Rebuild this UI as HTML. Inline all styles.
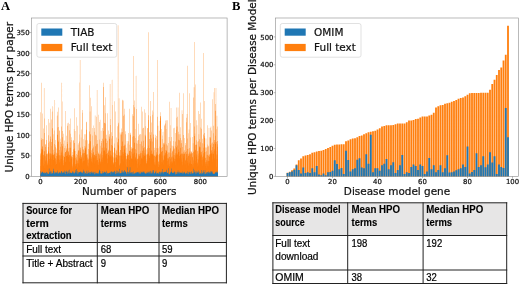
<!DOCTYPE html>
<html lang="en"><head><meta charset="utf-8"><title>Figure</title>
<style>html,body{margin:0;padding:0;background:#fff;}svg{display:block;}</style>
</head><body>
<svg width="520" height="284" viewBox="0 0 520 284">
<rect width="520" height="284" fill="#fff"/>
<path d="M40.360 176.40V112.37h0.280V176.40zM40.560 176.40V155.41h0.280V176.40zM40.760 176.40V159.38h0.280V176.40zM40.960 176.40V148.64h0.280V176.40zM41.160 176.40V82.69h0.280V176.40zM41.359 176.40V138.03h0.280V176.40zM41.559 176.40V139.88h0.280V176.40zM41.759 176.40V152.61h0.280V176.40zM41.959 176.40V138.93h0.280V176.40zM42.159 176.40V146.66h0.280V176.40zM42.359 176.40V113.46h0.280V176.40zM42.559 176.40V146.15h0.280V176.40zM42.759 176.40V149.38h0.280V176.40zM42.959 176.40V165.88h0.280V176.40zM43.158 176.40V128.51h0.280V176.40zM43.358 176.40V154.76h0.280V176.40zM43.558 176.40V167.46h0.280V176.40zM43.758 176.40V139.30h0.280V176.40zM43.958 176.40V88.04h0.280V176.40zM44.158 176.40V118.48h0.280V176.40zM44.358 176.40V133.11h0.280V176.40zM44.558 176.40V151.42h0.280V176.40zM44.757 176.40V167.88h0.280V176.40zM44.957 176.40V168.54h0.280V176.40zM45.157 176.40V144.18h0.280V176.40zM45.357 176.40V156.18h0.280V176.40zM45.557 176.40V147.03h0.280V176.40zM45.757 176.40V144.48h0.280V176.40zM45.957 176.40V165.75h0.280V176.40zM46.157 176.40V139.95h0.280V176.40zM46.356 176.40V150.14h0.280V176.40zM46.556 176.40V125.16h0.280V176.40zM46.756 176.40V154.11h0.280V176.40zM46.956 176.40V169.23h0.280V176.40zM47.156 176.40V154.31h0.280V176.40zM47.356 176.40V160.51h0.280V176.40zM47.556 176.40V153.16h0.280V176.40zM47.756 176.40V163.47h0.280V176.40zM47.956 176.40V146.92h0.280V176.40zM48.155 176.40V119.09h0.280V176.40zM48.355 176.40V143.08h0.280V176.40zM48.555 176.40V135.33h0.280V176.40zM48.755 176.40V151.61h0.280V176.40zM48.955 176.40V168.37h0.280V176.40zM49.155 176.40V141.56h0.280V176.40zM49.355 176.40V160.87h0.280V176.40zM49.555 176.40V153.15h0.280V176.40zM49.754 176.40V122.65h0.280V176.40zM49.954 176.40V139.04h0.280V176.40zM50.154 176.40V136.52h0.280V176.40zM50.354 176.40V158.03h0.280V176.40zM50.554 176.40V108.79h0.280V176.40zM50.754 176.40V153.74h0.280V176.40zM50.954 176.40V155.49h0.280V176.40zM51.154 176.40V142.00h0.280V176.40zM51.353 176.40V165.82h0.280V176.40zM51.553 176.40V119.39h0.280V176.40zM51.753 176.40V146.11h0.280V176.40zM51.953 176.40V111.61h0.280V176.40zM52.153 176.40V155.31h0.280V176.40zM52.353 176.40V128.37h0.280V176.40zM52.553 176.40V138.71h0.280V176.40zM52.753 176.40V106.24h0.280V176.40zM52.953 176.40V154.93h0.280V176.40zM53.152 176.40V154.40h0.280V176.40zM53.352 176.40V160.02h0.280V176.40zM53.552 176.40V149.85h0.280V176.40zM53.752 176.40V134.37h0.280V176.40zM53.952 176.40V130.43h0.280V176.40zM54.152 176.40V143.93h0.280V176.40zM54.352 176.40V157.34h0.280V176.40zM54.552 176.40V154.02h0.280V176.40zM54.751 176.40V100.03h0.280V176.40zM54.951 176.40V145.22h0.280V176.40zM55.151 176.40V147.25h0.280V176.40zM55.351 176.40V164.91h0.280V176.40zM55.551 176.40V158.48h0.280V176.40zM55.751 176.40V140.05h0.280V176.40zM55.951 176.40V164.07h0.280V176.40zM56.151 176.40V156.05h0.280V176.40zM56.350 176.40V152.78h0.280V176.40zM56.550 176.40V159.77h0.280V176.40zM56.750 176.40V148.44h0.280V176.40zM56.950 176.40V115.43h0.280V176.40zM57.150 176.40V127.54h0.280V176.40zM57.350 176.40V111.70h0.280V176.40zM57.550 176.40V166.73h0.280V176.40zM57.750 176.40V134.84h0.280V176.40zM57.950 176.40V160.94h0.280V176.40zM58.149 176.40V141.63h0.280V176.40zM58.349 176.40V107.56h0.280V176.40zM58.549 176.40V140.42h0.280V176.40zM58.749 176.40V127.07h0.280V176.40zM58.949 176.40V162.41h0.280V176.40zM59.149 176.40V159.65h0.280V176.40zM59.349 176.40V150.09h0.280V176.40zM59.549 176.40V130.65h0.280V176.40zM59.748 176.40V130.50h0.280V176.40zM59.948 176.40V138.81h0.280V176.40zM60.148 176.40V155.58h0.280V176.40zM60.348 176.40V142.11h0.280V176.40zM60.548 176.40V146.78h0.280V176.40zM60.748 176.40V168.89h0.280V176.40zM60.948 176.40V152.56h0.280V176.40zM61.148 176.40V126.47h0.280V176.40zM61.347 176.40V144.11h0.280V176.40zM61.547 176.40V158.92h0.280V176.40zM61.747 176.40V82.69h0.280V176.40zM61.947 176.40V101.47h0.280V176.40zM62.147 176.40V169.26h0.280V176.40zM62.347 176.40V137.32h0.280V176.40zM62.547 176.40V130.99h0.280V176.40zM62.747 176.40V146.28h0.280V176.40zM62.947 176.40V165.81h0.280V176.40zM63.146 176.40V164.97h0.280V176.40zM63.346 176.40V143.64h0.280V176.40zM63.546 176.40V133.75h0.280V176.40zM63.746 176.40V163.06h0.280V176.40zM63.946 176.40V153.39h0.280V176.40zM64.146 176.40V140.44h0.280V176.40zM64.346 176.40V156.79h0.280V176.40zM64.546 176.40V157.03h0.280V176.40zM64.745 176.40V148.05h0.280V176.40zM64.945 176.40V145.75h0.280V176.40zM65.145 176.40V110.98h0.280V176.40zM65.345 176.40V152.00h0.280V176.40zM65.545 176.40V152.12h0.280V176.40zM65.745 176.40V162.10h0.280V176.40zM65.945 176.40V148.31h0.280V176.40zM66.145 176.40V149.45h0.280V176.40zM66.344 176.40V135.67h0.280V176.40zM66.544 176.40V150.63h0.280V176.40zM66.744 176.40V156.11h0.280V176.40zM66.944 176.40V141.91h0.280V176.40zM67.144 176.40V125.68h0.280V176.40zM67.344 176.40V156.19h0.280V176.40zM67.544 176.40V143.92h0.280V176.40zM67.744 176.40V123.18h0.280V176.40zM67.944 176.40V148.36h0.280V176.40zM68.143 176.40V122.86h0.280V176.40zM68.343 176.40V156.98h0.280V176.40zM68.543 176.40V151.23h0.280V176.40zM68.743 176.40V152.15h0.280V176.40zM68.943 176.40V147.70h0.280V176.40zM69.143 176.40V130.17h0.280V176.40zM69.343 176.40V155.44h0.280V176.40zM69.543 176.40V161.64h0.280V176.40zM69.742 176.40V123.93h0.280V176.40zM69.942 176.40V133.68h0.280V176.40zM70.142 176.40V168.28h0.280V176.40zM70.342 176.40V142.26h0.280V176.40zM70.542 176.40V118.52h0.280V176.40zM70.742 176.40V147.67h0.280V176.40zM70.942 176.40V155.90h0.280V176.40zM71.142 176.40V137.27h0.280V176.40zM71.341 176.40V139.99h0.280V176.40zM71.541 176.40V158.63h0.280V176.40zM71.741 176.40V156.73h0.280V176.40zM71.941 176.40V154.88h0.280V176.40zM72.141 176.40V156.98h0.280V176.40zM72.341 176.40V170.53h0.280V176.40zM72.541 176.40V168.31h0.280V176.40zM72.741 176.40V152.05h0.280V176.40zM72.941 176.40V140.51h0.280V176.40zM73.140 176.40V162.71h0.280V176.40zM73.340 176.40V140.13h0.280V176.40zM73.540 176.40V149.15h0.280V176.40zM73.740 176.40V154.81h0.280V176.40zM73.940 176.40V129.04h0.280V176.40zM74.140 176.40V108.20h0.280V176.40zM74.340 176.40V148.54h0.280V176.40zM74.540 176.40V143.12h0.280V176.40zM74.739 176.40V151.33h0.280V176.40zM74.939 176.40V131.12h0.280V176.40zM75.139 176.40V150.95h0.280V176.40zM75.339 176.40V164.13h0.280V176.40zM75.539 176.40V166.27h0.280V176.40zM75.739 176.40V157.79h0.280V176.40zM75.939 176.40V163.63h0.280V176.40zM76.139 176.40V160.23h0.280V176.40zM76.338 176.40V157.31h0.280V176.40zM76.538 176.40V159.07h0.280V176.40zM76.738 176.40V117.37h0.280V176.40zM76.938 176.40V160.71h0.280V176.40zM77.138 176.40V163.27h0.280V176.40zM77.338 176.40V167.39h0.280V176.40zM77.538 176.40V125.69h0.280V176.40zM77.738 176.40V152.59h0.280V176.40zM77.938 176.40V144.84h0.280V176.40zM78.137 176.40V143.24h0.280V176.40zM78.337 176.40V165.79h0.280V176.40zM78.537 176.40V150.21h0.280V176.40zM78.737 176.40V150.76h0.280V176.40zM78.937 176.40V165.58h0.280V176.40zM79.137 176.40V157.70h0.280V176.40zM79.337 176.40V141.46h0.280V176.40zM79.537 176.40V134.56h0.280V176.40zM79.736 176.40V82.40h0.280V176.40zM79.936 176.40V60.09h0.280V176.40zM80.136 176.40V149.97h0.280V176.40zM80.336 176.40V147.51h0.280V176.40zM80.536 176.40V151.72h0.280V176.40zM80.736 176.40V159.34h0.280V176.40zM80.936 176.40V137.52h0.280V176.40zM81.136 176.40V129.51h0.280V176.40zM81.335 176.40V157.80h0.280V176.40zM81.535 176.40V159.35h0.280V176.40zM81.735 176.40V156.67h0.280V176.40zM81.935 176.40V171.03h0.280V176.40zM82.135 176.40V146.69h0.280V176.40zM82.335 176.40V109.89h0.280V176.40zM82.535 176.40V112.69h0.280V176.40zM82.735 176.40V163.57h0.280V176.40zM82.935 176.40V148.94h0.280V176.40zM83.134 176.40V139.22h0.280V176.40zM83.334 176.40V153.28h0.280V176.40zM83.534 176.40V161.13h0.280V176.40zM83.734 176.40V149.76h0.280V176.40zM83.934 176.40V151.35h0.280V176.40zM84.134 176.40V146.07h0.280V176.40zM84.334 176.40V134.23h0.280V176.40zM84.534 176.40V160.46h0.280V176.40zM84.733 176.40V152.97h0.280V176.40zM84.933 176.40V148.06h0.280V176.40zM85.133 176.40V140.17h0.280V176.40zM85.333 176.40V149.61h0.280V176.40zM85.533 176.40V134.24h0.280V176.40zM85.733 176.40V146.41h0.280V176.40zM85.933 176.40V167.21h0.280V176.40zM86.133 176.40V121.65h0.280V176.40zM86.332 176.40V158.39h0.280V176.40zM86.532 176.40V129.78h0.280V176.40zM86.732 176.40V122.27h0.280V176.40zM86.932 176.40V159.85h0.280V176.40zM87.132 176.40V166.53h0.280V176.40zM87.332 176.40V154.14h0.280V176.40zM87.532 176.40V157.30h0.280V176.40zM87.732 176.40V140.20h0.280V176.40zM87.932 176.40V173.11h0.280V176.40zM88.131 176.40V143.74h0.280V176.40zM88.331 176.40V158.77h0.280V176.40zM88.531 176.40V166.03h0.280V176.40zM88.731 176.40V148.88h0.280V176.40zM88.931 176.40V158.55h0.280V176.40zM89.131 176.40V131.57h0.280V176.40zM89.331 176.40V140.36h0.280V176.40zM89.531 176.40V85.23h0.280V176.40zM89.730 176.40V143.40h0.280V176.40zM89.930 176.40V111.42h0.280V176.40zM90.130 176.40V97.79h0.280V176.40zM90.330 176.40V159.85h0.280V176.40zM90.530 176.40V134.29h0.280V176.40zM90.730 176.40V141.14h0.280V176.40zM90.930 176.40V157.14h0.280V176.40zM91.130 176.40V161.56h0.280V176.40zM91.329 176.40V150.35h0.280V176.40zM91.529 176.40V158.63h0.280V176.40zM91.729 176.40V106.34h0.280V176.40zM91.929 176.40V173.11h0.280V176.40zM92.129 176.40V148.60h0.280V176.40zM92.329 176.40V153.78h0.280V176.40zM92.529 176.40V135.53h0.280V176.40zM92.729 176.40V127.91h0.280V176.40zM92.929 176.40V147.13h0.280V176.40zM93.128 176.40V152.30h0.280V176.40zM93.328 176.40V157.40h0.280V176.40zM93.528 176.40V145.54h0.280V176.40zM93.728 176.40V125.42h0.280V176.40zM93.928 176.40V163.46h0.280V176.40zM94.128 176.40V128.00h0.280V176.40zM94.328 176.40V131.75h0.280V176.40zM94.528 176.40V154.95h0.280V176.40zM94.727 176.40V157.66h0.280V176.40zM94.927 176.40V115.60h0.280V176.40zM95.127 176.40V146.15h0.280V176.40zM95.327 176.40V157.31h0.280V176.40zM95.527 176.40V134.71h0.280V176.40zM95.727 176.40V165.69h0.280V176.40zM95.927 176.40V135.56h0.280V176.40zM96.127 176.40V164.46h0.280V176.40zM96.326 176.40V144.23h0.280V176.40zM96.526 176.40V116.85h0.280V176.40zM96.726 176.40V169.03h0.280V176.40zM96.926 176.40V90.09h0.280V176.40zM97.126 176.40V140.01h0.280V176.40zM97.326 176.40V164.57h0.280V176.40zM97.526 176.40V143.70h0.280V176.40zM97.726 176.40V160.36h0.280V176.40zM97.926 176.40V168.38h0.280V176.40zM98.125 176.40V114.85h0.280V176.40zM98.325 176.40V152.44h0.280V176.40zM98.525 176.40V162.37h0.280V176.40zM98.725 176.40V153.66h0.280V176.40zM98.925 176.40V158.90h0.280V176.40zM99.125 176.40V159.31h0.280V176.40zM99.325 176.40V121.98h0.280V176.40zM99.525 176.40V155.70h0.280V176.40zM99.724 176.40V139.41h0.280V176.40zM99.924 176.40V119.77h0.280V176.40zM100.124 176.40V145.80h0.280V176.40zM100.324 176.40V163.51h0.280V176.40zM100.524 176.40V161.95h0.280V176.40zM100.724 176.40V153.46h0.280V176.40zM100.924 176.40V130.84h0.280V176.40zM101.124 176.40V168.98h0.280V176.40zM101.323 176.40V142.97h0.280V176.40zM101.523 176.40V141.02h0.280V176.40zM101.723 176.40V151.44h0.280V176.40zM101.923 176.40V147.64h0.280V176.40zM102.123 176.40V159.86h0.280V176.40zM102.323 176.40V138.65h0.280V176.40zM102.523 176.40V169.45h0.280V176.40zM102.723 176.40V128.04h0.280V176.40zM102.923 176.40V157.94h0.280V176.40zM103.122 176.40V86.89h0.280V176.40zM103.322 176.40V140.45h0.280V176.40zM103.522 176.40V131.11h0.280V176.40zM103.722 176.40V82.69h0.280V176.40zM103.922 176.40V147.40h0.280V176.40zM104.122 176.40V122.66h0.280V176.40zM104.322 176.40V105.27h0.280V176.40zM104.522 176.40V123.07h0.280V176.40zM104.721 176.40V150.51h0.280V176.40zM104.921 176.40V155.84h0.280V176.40zM105.121 176.40V123.44h0.280V176.40zM105.321 176.40V97.36h0.280V176.40zM105.521 176.40V113.37h0.280V176.40zM105.721 176.40V138.40h0.280V176.40zM105.921 176.40V154.14h0.280V176.40zM106.121 176.40V134.72h0.280V176.40zM106.320 176.40V138.70h0.280V176.40zM106.520 176.40V142.97h0.280V176.40zM106.720 176.40V148.30h0.280V176.40zM106.920 176.40V163.09h0.280V176.40zM107.120 176.40V140.67h0.280V176.40zM107.320 176.40V163.44h0.280V176.40zM107.520 176.40V152.95h0.280V176.40zM107.720 176.40V113.25h0.280V176.40zM107.920 176.40V152.09h0.280V176.40zM108.119 176.40V130.54h0.280V176.40zM108.319 176.40V155.33h0.280V176.40zM108.519 176.40V150.69h0.280V176.40zM108.719 176.40V149.83h0.280V176.40zM108.919 176.40V135.48h0.280V176.40zM109.119 176.40V133.91h0.280V176.40zM109.319 176.40V165.33h0.280V176.40zM109.519 176.40V138.85h0.280V176.40zM109.718 176.40V136.63h0.280V176.40zM109.918 176.40V83.93h0.280V176.40zM110.118 176.40V119.07h0.280V176.40zM110.318 176.40V125.06h0.280V176.40zM110.518 176.40V150.87h0.280V176.40zM110.718 176.40V156.75h0.280V176.40zM110.918 176.40V165.39h0.280V176.40zM111.118 176.40V144.98h0.280V176.40zM111.317 176.40V132.18h0.280V176.40zM111.517 176.40V155.41h0.280V176.40zM111.717 176.40V138.58h0.280V176.40zM111.917 176.40V79.82h0.280V176.40zM112.117 176.40V104.94h0.280V176.40zM112.317 176.40V156.96h0.280V176.40zM112.517 176.40V145.68h0.280V176.40zM112.717 176.40V135.91h0.280V176.40zM112.917 176.40V157.21h0.280V176.40zM113.116 176.40V163.03h0.280V176.40zM113.316 176.40V162.23h0.280V176.40zM113.516 176.40V152.62h0.280V176.40zM113.716 176.40V164.42h0.280V176.40zM113.916 176.40V158.26h0.280V176.40zM114.116 176.40V101.24h0.280V176.40zM114.316 176.40V143.45h0.280V176.40zM114.516 176.40V147.50h0.280V176.40zM114.715 176.40V147.89h0.280V176.40zM114.915 176.40V162.02h0.280V176.40zM115.115 176.40V111.61h0.280V176.40zM115.315 176.40V161.92h0.280V176.40zM115.515 176.40V157.58h0.280V176.40zM115.715 176.40V173.11h0.280V176.40zM115.915 176.40V149.44h0.280V176.40zM116.115 176.40V137.47h0.280V176.40zM116.314 176.40V157.66h0.280V176.40zM116.514 176.40V155.11h0.280V176.40zM116.714 176.40V150.42h0.280V176.40zM116.914 176.40V160.90h0.280V176.40zM117.114 176.40V142.28h0.280V176.40zM117.314 176.40V155.82h0.280V176.40zM117.514 176.40V126.33h0.280V176.40zM117.714 176.40V167.80h0.280V176.40zM117.914 176.40V25.15h0.280V176.40zM118.113 176.40V138.86h0.280V176.40zM118.313 176.40V145.58h0.280V176.40zM118.513 176.40V122.73h0.280V176.40zM118.713 176.40V124.41h0.280V176.40zM118.913 176.40V98.35h0.280V176.40zM119.113 176.40V155.52h0.280V176.40zM119.313 176.40V164.81h0.280V176.40zM119.513 176.40V168.93h0.280V176.40zM119.712 176.40V155.80h0.280V176.40zM119.912 176.40V132.40h0.280V176.40zM120.112 176.40V164.06h0.280V176.40zM120.312 176.40V150.05h0.280V176.40zM120.512 176.40V164.03h0.280V176.40zM120.712 176.40V134.54h0.280V176.40zM120.912 176.40V158.89h0.280V176.40zM121.112 176.40V128.49h0.280V176.40zM121.311 176.40V132.55h0.280V176.40zM121.511 176.40V134.42h0.280V176.40zM121.711 176.40V146.24h0.280V176.40zM121.911 176.40V131.89h0.280V176.40zM122.111 176.40V160.35h0.280V176.40zM122.311 176.40V141.44h0.280V176.40zM122.511 176.40V100.45h0.280V176.40zM122.711 176.40V99.63h0.280V176.40zM122.911 176.40V146.06h0.280V176.40zM123.110 176.40V161.72h0.280V176.40zM123.310 176.40V100.38h0.280V176.40zM123.510 176.40V155.99h0.280V176.40zM123.710 176.40V115.70h0.280V176.40zM123.910 176.40V144.24h0.280V176.40zM124.110 176.40V108.72h0.280V176.40zM124.310 176.40V114.60h0.280V176.40zM124.510 176.40V149.49h0.280V176.40zM124.709 176.40V145.54h0.280V176.40zM124.909 176.40V152.76h0.280V176.40zM125.109 176.40V166.09h0.280V176.40zM125.309 176.40V134.36h0.280V176.40zM125.509 176.40V144.84h0.280V176.40zM125.709 176.40V131.27h0.280V176.40zM125.909 176.40V147.82h0.280V176.40zM126.109 176.40V160.07h0.280V176.40zM126.308 176.40V158.65h0.280V176.40zM126.508 176.40V166.78h0.280V176.40zM126.708 176.40V156.11h0.280V176.40zM126.908 176.40V140.93h0.280V176.40zM127.108 176.40V143.55h0.280V176.40zM127.308 176.40V154.59h0.280V176.40zM127.508 176.40V153.57h0.280V176.40zM127.708 176.40V155.95h0.280V176.40zM127.908 176.40V154.68h0.280V176.40zM128.107 176.40V133.03h0.280V176.40zM128.307 176.40V166.39h0.280V176.40zM128.507 176.40V141.15h0.280V176.40zM128.707 176.40V154.99h0.280V176.40zM128.907 176.40V159.89h0.280V176.40zM129.107 176.40V150.65h0.280V176.40zM129.307 176.40V150.90h0.280V176.40zM129.507 176.40V144.80h0.280V176.40zM129.706 176.40V108.77h0.280V176.40zM129.906 176.40V133.69h0.280V176.40zM130.106 176.40V150.69h0.280V176.40zM130.306 176.40V134.92h0.280V176.40zM130.506 176.40V170.60h0.280V176.40zM130.706 176.40V132.78h0.280V176.40zM130.906 176.40V148.68h0.280V176.40zM131.106 176.40V158.69h0.280V176.40zM131.305 176.40V146.95h0.280V176.40zM131.505 176.40V158.16h0.280V176.40zM131.705 176.40V151.87h0.280V176.40zM131.905 176.40V148.14h0.280V176.40zM132.105 176.40V114.34h0.280V176.40zM132.305 176.40V136.83h0.280V176.40zM132.505 176.40V158.96h0.280V176.40zM132.705 176.40V148.56h0.280V176.40zM132.905 176.40V116.07h0.280V176.40zM133.104 176.40V136.04h0.280V176.40zM133.304 176.40V104.96h0.280V176.40zM133.504 176.40V55.98h0.280V176.40zM133.704 176.40V155.76h0.280V176.40zM133.904 176.40V169.35h0.280V176.40zM134.104 176.40V142.82h0.280V176.40zM134.304 176.40V100.56h0.280V176.40zM134.504 176.40V136.37h0.280V176.40zM134.703 176.40V107.26h0.280V176.40zM134.903 176.40V129.11h0.280V176.40zM135.103 176.40V137.90h0.280V176.40zM135.303 176.40V148.97h0.280V176.40zM135.503 176.40V157.62h0.280V176.40zM135.703 176.40V158.64h0.280V176.40zM135.903 176.40V75.71h0.280V176.40zM136.103 176.40V160.92h0.280V176.40zM136.302 176.40V153.46h0.280V176.40zM136.502 176.40V143.23h0.280V176.40zM136.702 176.40V108.90h0.280V176.40zM136.902 176.40V140.87h0.280V176.40zM137.102 176.40V143.73h0.280V176.40zM137.302 176.40V163.83h0.280V176.40zM137.502 176.40V158.88h0.280V176.40zM137.702 176.40V168.11h0.280V176.40zM137.902 176.40V140.07h0.280V176.40zM138.101 176.40V159.07h0.280V176.40zM138.301 176.40V136.22h0.280V176.40zM138.501 176.40V123.67h0.280V176.40zM138.701 176.40V162.16h0.280V176.40zM138.901 176.40V154.10h0.280V176.40zM139.101 176.40V156.42h0.280V176.40zM139.301 176.40V134.34h0.280V176.40zM139.501 176.40V134.95h0.280V176.40zM139.700 176.40V166.21h0.280V176.40zM139.900 176.40V143.95h0.280V176.40zM140.100 176.40V151.25h0.280V176.40zM140.300 176.40V133.92h0.280V176.40zM140.500 176.40V163.98h0.280V176.40zM140.700 176.40V153.37h0.280V176.40zM140.900 176.40V134.61h0.280V176.40zM141.100 176.40V106.87h0.280V176.40zM141.299 176.40V158.71h0.280V176.40zM141.499 176.40V157.77h0.280V176.40zM141.699 176.40V141.45h0.280V176.40zM141.899 176.40V145.67h0.280V176.40zM142.099 176.40V150.71h0.280V176.40zM142.299 176.40V158.84h0.280V176.40zM142.499 176.40V111.42h0.280V176.40zM142.699 176.40V128.56h0.280V176.40zM142.899 176.40V156.96h0.280V176.40zM143.098 176.40V148.14h0.280V176.40zM143.298 176.40V128.10h0.280V176.40zM143.498 176.40V127.63h0.280V176.40zM143.698 176.40V140.83h0.280V176.40zM143.898 176.40V150.51h0.280V176.40zM144.098 176.40V109.23h0.280V176.40zM144.298 176.40V156.37h0.280V176.40zM144.498 176.40V147.37h0.280V176.40zM144.697 176.40V155.60h0.280V176.40zM144.897 176.40V134.86h0.280V176.40zM145.097 176.40V156.68h0.280V176.40zM145.297 176.40V112.72h0.280V176.40zM145.497 176.40V126.20h0.280V176.40zM145.697 176.40V136.26h0.280V176.40zM145.897 176.40V163.14h0.280V176.40zM146.097 176.40V154.38h0.280V176.40zM146.296 176.40V159.21h0.280V176.40zM146.496 176.40V149.59h0.280V176.40zM146.696 176.40V163.79h0.280V176.40zM146.896 176.40V161.14h0.280V176.40zM147.096 176.40V147.91h0.280V176.40zM147.296 176.40V128.10h0.280V176.40zM147.496 176.40V128.21h0.280V176.40zM147.696 176.40V153.69h0.280V176.40zM147.896 176.40V154.41h0.280V176.40zM148.095 176.40V119.94h0.280V176.40zM148.295 176.40V115.22h0.280V176.40zM148.495 176.40V151.73h0.280V176.40zM148.695 176.40V32.14h0.280V176.40zM148.895 176.40V157.91h0.280V176.40zM149.095 176.40V148.05h0.280V176.40zM149.295 176.40V138.88h0.280V176.40zM149.495 176.40V155.71h0.280V176.40zM149.694 176.40V132.17h0.280V176.40zM149.894 176.40V160.72h0.280V176.40zM150.094 176.40V134.98h0.280V176.40zM150.294 176.40V116.31h0.280V176.40zM150.494 176.40V141.35h0.280V176.40zM150.694 176.40V101.01h0.280V176.40zM150.894 176.40V150.43h0.280V176.40zM151.094 176.40V154.29h0.280V176.40zM151.293 176.40V138.39h0.280V176.40zM151.493 176.40V122.48h0.280V176.40zM151.693 176.40V132.27h0.280V176.40zM151.893 176.40V141.54h0.280V176.40zM152.093 176.40V154.78h0.280V176.40zM152.293 176.40V154.14h0.280V176.40zM152.493 176.40V114.83h0.280V176.40zM152.693 176.40V110.56h0.280V176.40zM152.893 176.40V112.26h0.280V176.40zM153.092 176.40V91.89h0.280V176.40zM153.292 176.40V137.30h0.280V176.40zM153.492 176.40V134.50h0.280V176.40zM153.692 176.40V159.20h0.280V176.40zM153.892 176.40V155.28h0.280V176.40zM154.092 176.40V164.84h0.280V176.40zM154.292 176.40V156.06h0.280V176.40zM154.492 176.40V147.67h0.280V176.40zM154.691 176.40V149.88h0.280V176.40zM154.891 176.40V164.19h0.280V176.40zM155.091 176.40V165.46h0.280V176.40zM155.291 176.40V137.82h0.280V176.40zM155.491 176.40V161.56h0.280V176.40zM155.691 176.40V134.69h0.280V176.40zM155.891 176.40V148.02h0.280V176.40zM156.091 176.40V155.55h0.280V176.40zM156.290 176.40V152.30h0.280V176.40zM156.490 176.40V135.88h0.280V176.40zM156.690 176.40V154.59h0.280V176.40zM156.890 176.40V139.43h0.280V176.40zM157.090 176.40V60.09h0.280V176.40zM157.290 176.40V172.11h0.280V176.40zM157.490 176.40V116.75h0.280V176.40zM157.690 176.40V154.84h0.280V176.40zM157.890 176.40V125.79h0.280V176.40zM158.089 176.40V148.18h0.280V176.40zM158.289 176.40V167.12h0.280V176.40zM158.489 176.40V161.44h0.280V176.40zM158.689 176.40V164.13h0.280V176.40zM158.889 176.40V161.54h0.280V176.40zM159.089 176.40V153.63h0.280V176.40zM159.289 176.40V166.13h0.280V176.40zM159.489 176.40V130.78h0.280V176.40zM159.688 176.40V146.48h0.280V176.40zM159.888 176.40V121.04h0.280V176.40zM160.088 176.40V112.20h0.280V176.40zM160.288 176.40V118.20h0.280V176.40zM160.488 176.40V115.88h0.280V176.40zM160.688 176.40V116.42h0.280V176.40zM160.888 176.40V171.69h0.280V176.40zM161.088 176.40V152.01h0.280V176.40zM161.287 176.40V147.84h0.280V176.40zM161.487 176.40V150.79h0.280V176.40zM161.687 176.40V128.88h0.280V176.40zM161.887 176.40V138.95h0.280V176.40zM162.087 176.40V146.88h0.280V176.40zM162.287 176.40V162.63h0.280V176.40zM162.487 176.40V150.89h0.280V176.40zM162.687 176.40V135.42h0.280V176.40zM162.887 176.40V131.86h0.280V176.40zM163.086 176.40V164.42h0.280V176.40zM163.286 176.40V160.68h0.280V176.40zM163.486 176.40V143.25h0.280V176.40zM163.686 176.40V144.60h0.280V176.40zM163.886 176.40V142.75h0.280V176.40zM164.086 176.40V155.91h0.280V176.40zM164.286 176.40V144.52h0.280V176.40zM164.486 176.40V126.10h0.280V176.40zM164.685 176.40V124.67h0.280V176.40zM164.885 176.40V157.57h0.280V176.40zM165.085 176.40V152.87h0.280V176.40zM165.285 176.40V123.49h0.280V176.40zM165.485 176.40V150.12h0.280V176.40zM165.685 176.40V120.49h0.280V176.40zM165.885 176.40V129.02h0.280V176.40zM166.085 176.40V151.12h0.280V176.40zM166.284 176.40V120.35h0.280V176.40zM166.484 176.40V144.29h0.280V176.40zM166.684 176.40V150.30h0.280V176.40zM166.884 176.40V151.99h0.280V176.40zM167.084 176.40V145.51h0.280V176.40zM167.284 176.40V165.22h0.280V176.40zM167.484 176.40V120.27h0.280V176.40zM167.684 176.40V158.19h0.280V176.40zM167.884 176.40V168.11h0.280V176.40zM168.083 176.40V152.50h0.280V176.40zM168.283 176.40V158.12h0.280V176.40zM168.483 176.40V143.11h0.280V176.40zM168.683 176.40V158.69h0.280V176.40zM168.883 176.40V137.07h0.280V176.40zM169.083 176.40V166.03h0.280V176.40zM169.283 176.40V157.05h0.280V176.40zM169.483 176.40V163.68h0.280V176.40zM169.682 176.40V101.78h0.280V176.40zM169.882 176.40V166.64h0.280V176.40zM170.082 176.40V148.18h0.280V176.40zM170.282 176.40V141.18h0.280V176.40zM170.482 176.40V171.13h0.280V176.40zM170.682 176.40V125.14h0.280V176.40zM170.882 176.40V108.12h0.280V176.40zM171.082 176.40V163.77h0.280V176.40zM171.281 176.40V157.72h0.280V176.40zM171.481 176.40V137.10h0.280V176.40zM171.681 176.40V161.91h0.280V176.40zM171.881 176.40V145.53h0.280V176.40zM172.081 176.40V156.47h0.280V176.40zM172.281 176.40V151.46h0.280V176.40zM172.481 176.40V162.57h0.280V176.40zM172.681 176.40V150.49h0.280V176.40zM172.881 176.40V146.03h0.280V176.40zM173.080 176.40V147.30h0.280V176.40zM173.280 176.40V140.93h0.280V176.40zM173.480 176.40V128.33h0.280V176.40zM173.680 176.40V157.38h0.280V176.40zM173.880 176.40V149.59h0.280V176.40zM174.080 176.40V127.83h0.280V176.40zM174.280 176.40V158.70h0.280V176.40zM174.480 176.40V161.32h0.280V176.40zM174.679 176.40V148.43h0.280V176.40zM174.879 176.40V153.31h0.280V176.40zM175.079 176.40V165.05h0.280V176.40zM175.279 176.40V141.40h0.280V176.40zM175.479 176.40V146.06h0.280V176.40zM175.679 176.40V133.05h0.280V176.40zM175.879 176.40V155.32h0.280V176.40zM176.079 176.40V147.30h0.280V176.40zM176.278 176.40V107.54h0.280V176.40zM176.478 176.40V117.74h0.280V176.40zM176.678 176.40V129.63h0.280V176.40zM176.878 176.40V126.41h0.280V176.40zM177.078 176.40V145.43h0.280V176.40zM177.278 176.40V158.34h0.280V176.40zM177.478 176.40V116.70h0.280V176.40zM177.678 176.40V155.12h0.280V176.40zM177.878 176.40V107.49h0.280V176.40zM178.077 176.40V149.39h0.280V176.40zM178.277 176.40V139.78h0.280V176.40zM178.477 176.40V131.76h0.280V176.40zM178.677 176.40V151.98h0.280V176.40zM178.877 176.40V134.15h0.280V176.40zM179.077 176.40V92.64h0.280V176.40zM179.277 176.40V159.67h0.280V176.40zM179.477 176.40V140.14h0.280V176.40zM179.676 176.40V156.03h0.280V176.40zM179.876 176.40V134.17h0.280V176.40zM180.076 176.40V138.03h0.280V176.40zM180.276 176.40V154.49h0.280V176.40zM180.476 176.40V147.79h0.280V176.40zM180.676 176.40V127.13h0.280V176.40zM180.876 176.40V143.54h0.280V176.40zM181.076 176.40V142.92h0.280V176.40zM181.275 176.40V140.25h0.280V176.40zM181.475 176.40V161.74h0.280V176.40zM181.675 176.40V153.82h0.280V176.40zM181.875 176.40V110.31h0.280V176.40zM182.075 176.40V164.77h0.280V176.40zM182.275 176.40V147.08h0.280V176.40zM182.475 176.40V113.89h0.280V176.40zM182.675 176.40V168.89h0.280V176.40zM182.875 176.40V154.60h0.280V176.40zM183.074 176.40V93.18h0.280V176.40zM183.274 176.40V158.00h0.280V176.40zM183.474 176.40V153.80h0.280V176.40zM183.674 176.40V134.91h0.280V176.40zM183.874 176.40V153.90h0.280V176.40zM184.074 176.40V153.76h0.280V176.40zM184.274 176.40V138.03h0.280V176.40zM184.474 176.40V152.44h0.280V176.40zM184.673 176.40V150.20h0.280V176.40zM184.873 176.40V165.40h0.280V176.40zM185.073 176.40V145.35h0.280V176.40zM185.273 176.40V160.53h0.280V176.40zM185.473 176.40V142.98h0.280V176.40zM185.673 176.40V151.88h0.280V176.40zM185.873 176.40V168.22h0.280V176.40zM186.073 176.40V158.37h0.280V176.40zM186.272 176.40V122.29h0.280V176.40zM186.472 176.40V117.82h0.280V176.40zM186.672 176.40V151.01h0.280V176.40zM186.872 176.40V113.90h0.280V176.40zM187.072 176.40V161.20h0.280V176.40zM187.272 176.40V163.32h0.280V176.40zM187.472 176.40V65.84h0.280V176.40zM187.672 176.40V138.44h0.280V176.40zM187.872 176.40V148.79h0.280V176.40zM188.071 176.40V153.73h0.280V176.40zM188.271 176.40V156.05h0.280V176.40zM188.471 176.40V166.24h0.280V176.40zM188.671 176.40V133.29h0.280V176.40zM188.871 176.40V129.55h0.280V176.40zM189.071 176.40V153.55h0.280V176.40zM189.271 176.40V163.77h0.280V176.40zM189.471 176.40V147.99h0.280V176.40zM189.670 176.40V93.18h0.280V176.40zM189.870 176.40V163.59h0.280V176.40zM190.070 176.40V122.92h0.280V176.40zM190.270 176.40V137.41h0.280V176.40zM190.470 176.40V153.46h0.280V176.40zM190.670 176.40V160.47h0.280V176.40zM190.870 176.40V151.36h0.280V176.40zM191.070 176.40V152.11h0.280V176.40zM191.269 176.40V153.27h0.280V176.40zM191.469 176.40V163.99h0.280V176.40zM191.669 176.40V151.58h0.280V176.40zM191.869 176.40V153.68h0.280V176.40zM192.069 176.40V152.91h0.280V176.40zM192.269 176.40V157.19h0.280V176.40zM192.469 176.40V170.18h0.280V176.40zM192.669 176.40V137.04h0.280V176.40zM192.869 176.40V143.20h0.280V176.40zM193.068 176.40V160.92h0.280V176.40zM193.268 176.40V97.61h0.280V176.40zM193.468 176.40V166.70h0.280V176.40zM193.668 176.40V163.47h0.280V176.40zM193.868 176.40V87.19h0.280V176.40zM194.068 176.40V135.99h0.280V176.40zM194.268 176.40V168.89h0.280V176.40zM194.468 176.40V126.62h0.280V176.40zM194.667 176.40V42.00h0.280V176.40zM194.867 176.40V133.42h0.280V176.40zM195.067 176.40V84.44h0.280V176.40zM195.267 176.40V145.08h0.280V176.40zM195.467 176.40V149.69h0.280V176.40zM195.667 176.40V163.54h0.280V176.40zM195.867 176.40V144.42h0.280V176.40zM196.067 176.40V120.18h0.280V176.40zM196.266 176.40V140.34h0.280V176.40zM196.466 176.40V144.63h0.280V176.40zM196.666 176.40V156.87h0.280V176.40zM196.866 176.40V125.28h0.280V176.40zM197.066 176.40V141.65h0.280V176.40zM197.266 176.40V151.14h0.280V176.40zM197.466 176.40V166.44h0.280V176.40zM197.666 176.40V162.41h0.280V176.40zM197.866 176.40V150.86h0.280V176.40zM198.065 176.40V110.98h0.280V176.40zM198.265 176.40V165.58h0.280V176.40zM198.465 176.40V160.01h0.280V176.40zM198.665 176.40V141.31h0.280V176.40zM198.865 176.40V134.14h0.280V176.40zM199.065 176.40V114.02h0.280V176.40zM199.265 176.40V145.93h0.280V176.40zM199.465 176.40V139.36h0.280V176.40zM199.664 176.40V147.29h0.280V176.40zM199.864 176.40V147.13h0.280V176.40zM200.064 176.40V156.43h0.280V176.40zM200.264 176.40V127.52h0.280V176.40zM200.464 176.40V102.42h0.280V176.40zM200.664 176.40V142.28h0.280V176.40zM200.864 176.40V151.54h0.280V176.40zM201.064 176.40V118.71h0.280V176.40zM201.263 176.40V160.24h0.280V176.40zM201.463 176.40V128.86h0.280V176.40zM201.663 176.40V152.02h0.280V176.40zM201.863 176.40V168.03h0.280V176.40zM202.063 176.40V143.24h0.280V176.40zM202.263 176.40V150.67h0.280V176.40zM202.463 176.40V138.70h0.280V176.40zM202.663 176.40V165.59h0.280V176.40zM202.863 176.40V156.63h0.280V176.40zM203.062 176.40V134.54h0.280V176.40zM203.262 176.40V159.10h0.280V176.40zM203.462 176.40V153.27h0.280V176.40zM203.662 176.40V53.10h0.280V176.40zM203.862 176.40V143.74h0.280V176.40zM204.062 176.40V133.11h0.280V176.40zM204.262 176.40V136.19h0.280V176.40zM204.462 176.40V137.94h0.280V176.40zM204.661 176.40V101.10h0.280V176.40zM204.861 176.40V152.00h0.280V176.40zM205.061 176.40V166.18h0.280V176.40zM205.261 176.40V147.45h0.280V176.40zM205.461 176.40V158.04h0.280V176.40zM205.661 176.40V163.42h0.280V176.40zM205.861 176.40V138.43h0.280V176.40zM206.061 176.40V160.23h0.280V176.40zM206.260 176.40V171.71h0.280V176.40zM206.460 176.40V147.42h0.280V176.40zM206.660 176.40V151.34h0.280V176.40zM206.860 176.40V154.97h0.280V176.40zM207.060 176.40V169.44h0.280V176.40zM207.260 176.40V144.51h0.280V176.40zM207.460 176.40V125.33h0.280V176.40zM207.660 176.40V164.24h0.280V176.40zM207.860 176.40V146.69h0.280V176.40zM208.059 176.40V156.10h0.280V176.40zM208.259 176.40V160.73h0.280V176.40zM208.459 176.40V145.76h0.280V176.40zM208.659 176.40V166.45h0.280V176.40zM208.859 176.40V127.88h0.280V176.40zM209.059 176.40V154.58h0.280V176.40zM209.259 176.40V137.20h0.280V176.40zM209.459 176.40V156.72h0.280V176.40zM209.658 176.40V161.20h0.280V176.40zM209.858 176.40V154.19h0.280V176.40zM210.058 176.40V137.10h0.280V176.40zM210.258 176.40V127.84h0.280V176.40zM210.458 176.40V145.32h0.280V176.40zM210.658 176.40V138.20h0.280V176.40zM210.858 176.40V126.51h0.280V176.40zM211.058 176.40V153.48h0.280V176.40zM211.257 176.40V150.61h0.280V176.40zM211.457 176.40V130.59h0.280V176.40zM211.657 176.40V143.40h0.280V176.40zM211.857 176.40V150.06h0.280V176.40zM212.057 176.40V142.40h0.280V176.40zM212.257 176.40V165.16h0.280V176.40zM212.457 176.40V99.20h0.280V176.40zM212.657 176.40V146.88h0.280V176.40zM212.857 176.40V153.76h0.280V176.40zM213.056 176.40V133.28h0.280V176.40zM213.256 176.40V125.87h0.280V176.40zM213.456 176.40V153.82h0.280V176.40zM213.656 176.40V143.90h0.280V176.40zM213.856 176.40V92.15h0.280V176.40zM214.056 176.40V88.04h0.280V176.40zM214.256 176.40V149.33h0.280V176.40zM214.456 176.40V140.08h0.280V176.40zM214.655 176.40V163.19h0.280V176.40zM214.855 176.40V142.37h0.280V176.40zM215.055 176.40V110.82h0.280V176.40zM215.255 176.40V144.30h0.280V176.40zM215.455 176.40V104.11h0.280V176.40zM215.655 176.40V135.76h0.280V176.40zM215.855 176.40V88.04h0.280V176.40zM216.055 176.40V129.25h0.280V176.40zM216.254 176.40V169.81h0.280V176.40zM216.454 176.40V166.72h0.280V176.40zM216.654 176.40V142.03h0.280V176.40zM216.854 176.40V115.66h0.280V176.40zM217.054 176.40V144.25h0.280V176.40zM217.254 176.40V140.97h0.280V176.40zM217.454 176.40V146.72h0.280V176.40zM217.654 176.40V126.49h0.280V176.40z" fill="#ff7f0e"/>
<path d="M40.310 176.40V153.56h0.380V176.40zM40.510 176.40V165.91h0.380V176.40zM40.710 176.40V167.89h0.380V176.40zM40.910 176.40V162.52h0.380V176.40zM41.110 176.40V150.59h0.380V176.40zM41.310 176.40V157.22h0.380V176.40zM41.509 176.40V158.14h0.380V176.40zM41.709 176.40V164.50h0.380V176.40zM41.909 176.40V157.67h0.380V176.40zM42.109 176.40V161.53h0.380V176.40zM42.309 176.40V153.67h0.380V176.40zM42.509 176.40V161.28h0.380V176.40zM42.709 176.40V162.89h0.380V176.40zM42.909 176.40V171.14h0.380V176.40zM43.108 176.40V155.17h0.380V176.40zM43.308 176.40V165.58h0.380V176.40zM43.508 176.40V171.93h0.380V176.40zM43.708 176.40V157.85h0.380V176.40zM43.908 176.40V151.12h0.380V176.40zM44.108 176.40V154.17h0.380V176.40zM44.308 176.40V155.63h0.380V176.40zM44.508 176.40V163.91h0.380V176.40zM44.707 176.40V172.14h0.380V176.40zM44.907 176.40V172.47h0.380V176.40zM45.107 176.40V160.29h0.380V176.40zM45.307 176.40V166.29h0.380V176.40zM45.507 176.40V161.72h0.380V176.40zM45.707 176.40V160.44h0.380V176.40zM45.907 176.40V171.08h0.380V176.40zM46.107 176.40V158.17h0.380V176.40zM46.307 176.40V163.27h0.380V176.40zM46.506 176.40V154.84h0.380V176.40zM46.706 176.40V165.26h0.380V176.40zM46.906 176.40V172.81h0.380V176.40zM47.106 176.40V165.36h0.380V176.40zM47.306 176.40V168.45h0.380V176.40zM47.506 176.40V164.78h0.380V176.40zM47.706 176.40V169.94h0.380V176.40zM47.906 176.40V161.66h0.380V176.40zM48.105 176.40V154.23h0.380V176.40zM48.305 176.40V159.74h0.380V176.40zM48.505 176.40V155.86h0.380V176.40zM48.705 176.40V164.01h0.380V176.40zM48.905 176.40V172.39h0.380V176.40zM49.105 176.40V158.98h0.380V176.40zM49.305 176.40V168.64h0.380V176.40zM49.505 176.40V164.78h0.380V176.40zM49.704 176.40V154.58h0.380V176.40zM49.904 176.40V157.72h0.380V176.40zM50.104 176.40V156.46h0.380V176.40zM50.304 176.40V167.21h0.380V176.40zM50.504 176.40V153.20h0.380V176.40zM50.704 176.40V165.07h0.380V176.40zM50.904 176.40V165.95h0.380V176.40zM51.104 176.40V159.20h0.380V176.40zM51.304 176.40V171.11h0.380V176.40zM51.503 176.40V154.26h0.380V176.40zM51.703 176.40V161.26h0.380V176.40zM51.903 176.40V153.48h0.380V176.40zM52.103 176.40V165.86h0.380V176.40zM52.303 176.40V155.16h0.380V176.40zM52.503 176.40V157.56h0.380V176.40zM52.703 176.40V152.94h0.380V176.40zM52.903 176.40V165.66h0.380V176.40zM53.102 176.40V165.40h0.380V176.40zM53.302 176.40V168.21h0.380V176.40zM53.502 176.40V163.13h0.380V176.40zM53.702 176.40V155.76h0.380V176.40zM53.902 176.40V155.36h0.380V176.40zM54.102 176.40V160.17h0.380V176.40zM54.302 176.40V166.87h0.380V176.40zM54.502 176.40V165.21h0.380V176.40zM54.701 176.40V152.32h0.380V176.40zM54.901 176.40V160.81h0.380V176.40zM55.101 176.40V161.83h0.380V176.40zM55.301 176.40V170.65h0.380V176.40zM55.501 176.40V167.44h0.380V176.40zM55.701 176.40V158.23h0.380V176.40zM55.901 176.40V170.23h0.380V176.40zM56.101 176.40V166.23h0.380V176.40zM56.301 176.40V164.59h0.380V176.40zM56.500 176.40V168.09h0.380V176.40zM56.700 176.40V162.42h0.380V176.40zM56.900 176.40V153.86h0.380V176.40zM57.100 176.40V155.07h0.380V176.40zM57.300 176.40V153.49h0.380V176.40zM57.500 176.40V171.57h0.380V176.40zM57.700 176.40V155.80h0.380V176.40zM57.900 176.40V168.67h0.380V176.40zM58.099 176.40V159.01h0.380V176.40zM58.299 176.40V153.08h0.380V176.40zM58.499 176.40V158.41h0.380V176.40zM58.699 176.40V155.03h0.380V176.40zM58.899 176.40V169.40h0.380V176.40zM59.099 176.40V168.02h0.380V176.40zM59.299 176.40V163.24h0.380V176.40zM59.499 176.40V155.39h0.380V176.40zM59.698 176.40V155.37h0.380V176.40zM59.898 176.40V157.61h0.380V176.40zM60.098 176.40V165.99h0.380V176.40zM60.298 176.40V159.26h0.380V176.40zM60.498 176.40V161.59h0.380V176.40zM60.698 176.40V172.64h0.380V176.40zM60.898 176.40V164.48h0.380V176.40zM61.098 176.40V154.97h0.380V176.40zM61.298 176.40V160.26h0.380V176.40zM61.497 176.40V167.66h0.380V176.40zM61.697 176.40V150.59h0.380V176.40zM61.897 176.40V152.47h0.380V176.40zM62.097 176.40V172.83h0.380V176.40zM62.297 176.40V156.86h0.380V176.40zM62.497 176.40V155.42h0.380V176.40zM62.697 176.40V161.34h0.380V176.40zM62.897 176.40V171.10h0.380V176.40zM63.096 176.40V170.68h0.380V176.40zM63.296 176.40V160.02h0.380V176.40zM63.496 176.40V155.70h0.380V176.40zM63.696 176.40V169.73h0.380V176.40zM63.896 176.40V164.90h0.380V176.40zM64.096 176.40V158.42h0.380V176.40zM64.296 176.40V166.60h0.380V176.40zM64.496 176.40V166.72h0.380V176.40zM64.695 176.40V162.22h0.380V176.40zM64.895 176.40V161.08h0.380V176.40zM65.095 176.40V153.42h0.380V176.40zM65.295 176.40V164.20h0.380V176.40zM65.495 176.40V164.26h0.380V176.40zM65.695 176.40V169.25h0.380V176.40zM65.895 176.40V162.35h0.380V176.40zM66.095 176.40V162.93h0.380V176.40zM66.295 176.40V156.03h0.380V176.40zM66.494 176.40V163.52h0.380V176.40zM66.694 176.40V166.25h0.380V176.40zM66.894 176.40V159.15h0.380V176.40zM67.094 176.40V154.89h0.380V176.40zM67.294 176.40V166.29h0.380V176.40zM67.494 176.40V160.16h0.380V176.40zM67.694 176.40V154.64h0.380V176.40zM67.894 176.40V162.38h0.380V176.40zM68.093 176.40V154.61h0.380V176.40zM68.293 176.40V166.69h0.380V176.40zM68.493 176.40V163.82h0.380V176.40zM68.693 176.40V164.28h0.380V176.40zM68.893 176.40V162.05h0.380V176.40zM69.093 176.40V155.34h0.380V176.40zM69.293 176.40V165.92h0.380V176.40zM69.493 176.40V169.02h0.380V176.40zM69.692 176.40V154.71h0.380V176.40zM69.892 176.40V155.69h0.380V176.40zM70.092 176.40V172.34h0.380V176.40zM70.292 176.40V159.33h0.380V176.40zM70.492 176.40V154.17h0.380V176.40zM70.692 176.40V162.03h0.380V176.40zM70.892 176.40V166.15h0.380V176.40zM71.092 176.40V156.84h0.380V176.40zM71.292 176.40V158.19h0.380V176.40zM71.491 176.40V167.51h0.380V176.40zM71.691 176.40V166.57h0.380V176.40zM71.891 176.40V165.64h0.380V176.40zM72.091 176.40V166.69h0.380V176.40zM72.291 176.40V173.46h0.380V176.40zM72.491 176.40V172.35h0.380V176.40zM72.691 176.40V164.23h0.380V176.40zM72.891 176.40V158.46h0.380V176.40zM73.090 176.40V169.56h0.380V176.40zM73.290 176.40V158.26h0.380V176.40zM73.490 176.40V162.78h0.380V176.40zM73.690 176.40V165.60h0.380V176.40zM73.890 176.40V155.22h0.380V176.40zM74.090 176.40V153.14h0.380V176.40zM74.290 176.40V162.47h0.380V176.40zM74.490 176.40V159.76h0.380V176.40zM74.689 176.40V163.87h0.380V176.40zM74.889 176.40V155.43h0.380V176.40zM75.089 176.40V163.68h0.380V176.40zM75.289 176.40V170.26h0.380V176.40zM75.489 176.40V171.33h0.380V176.40zM75.689 176.40V167.10h0.380V176.40zM75.889 176.40V170.02h0.380V176.40zM76.089 176.40V168.31h0.380V176.40zM76.289 176.40V166.85h0.380V176.40zM76.488 176.40V167.74h0.380V176.40zM76.688 176.40V154.06h0.380V176.40zM76.888 176.40V168.56h0.380V176.40zM77.088 176.40V169.84h0.380V176.40zM77.288 176.40V171.89h0.380V176.40zM77.488 176.40V154.89h0.380V176.40zM77.688 176.40V164.50h0.380V176.40zM77.888 176.40V160.62h0.380V176.40zM78.087 176.40V159.82h0.380V176.40zM78.287 176.40V171.09h0.380V176.40zM78.487 176.40V163.31h0.380V176.40zM78.687 176.40V163.58h0.380V176.40zM78.887 176.40V170.99h0.380V176.40zM79.087 176.40V167.05h0.380V176.40zM79.287 176.40V158.93h0.380V176.40zM79.487 176.40V155.78h0.380V176.40zM79.686 176.40V150.56h0.380V176.40zM79.886 176.40V148.33h0.380V176.40zM80.086 176.40V163.18h0.380V176.40zM80.286 176.40V161.95h0.380V176.40zM80.486 176.40V164.06h0.380V176.40zM80.686 176.40V167.87h0.380V176.40zM80.886 176.40V156.96h0.380V176.40zM81.086 176.40V155.27h0.380V176.40zM81.286 176.40V167.10h0.380V176.40zM81.485 176.40V167.88h0.380V176.40zM81.685 176.40V166.53h0.380V176.40zM81.885 176.40V173.71h0.380V176.40zM82.085 176.40V161.55h0.380V176.40zM82.285 176.40V153.31h0.380V176.40zM82.485 176.40V153.59h0.380V176.40zM82.685 176.40V169.98h0.380V176.40zM82.885 176.40V162.67h0.380V176.40zM83.084 176.40V157.81h0.380V176.40zM83.284 176.40V164.84h0.380V176.40zM83.484 176.40V168.76h0.380V176.40zM83.684 176.40V163.08h0.380V176.40zM83.884 176.40V163.88h0.380V176.40zM84.084 176.40V161.24h0.380V176.40zM84.284 176.40V155.74h0.380V176.40zM84.484 176.40V168.43h0.380V176.40zM84.683 176.40V164.69h0.380V176.40zM84.883 176.40V162.23h0.380V176.40zM85.083 176.40V158.28h0.380V176.40zM85.283 176.40V163.01h0.380V176.40zM85.483 176.40V155.74h0.380V176.40zM85.683 176.40V161.41h0.380V176.40zM85.883 176.40V171.81h0.380V176.40zM86.083 176.40V154.48h0.380V176.40zM86.283 176.40V167.40h0.380V176.40zM86.482 176.40V155.30h0.380V176.40zM86.682 176.40V154.55h0.380V176.40zM86.882 176.40V168.12h0.380V176.40zM87.082 176.40V171.47h0.380V176.40zM87.282 176.40V165.27h0.380V176.40zM87.482 176.40V166.85h0.380V176.40zM87.682 176.40V158.30h0.380V176.40zM87.882 176.40V174.76h0.380V176.40zM88.081 176.40V160.07h0.380V176.40zM88.281 176.40V167.59h0.380V176.40zM88.481 176.40V171.21h0.380V176.40zM88.681 176.40V162.64h0.380V176.40zM88.881 176.40V167.47h0.380V176.40zM89.081 176.40V155.48h0.380V176.40zM89.281 176.40V158.38h0.380V176.40zM89.481 176.40V150.84h0.380V176.40zM89.680 176.40V159.90h0.380V176.40zM89.880 176.40V153.46h0.380V176.40zM90.080 176.40V152.10h0.380V176.40zM90.280 176.40V168.12h0.380V176.40zM90.480 176.40V155.75h0.380V176.40zM90.680 176.40V158.77h0.380V176.40zM90.880 176.40V166.77h0.380V176.40zM91.080 176.40V168.98h0.380V176.40zM91.280 176.40V163.37h0.380V176.40zM91.479 176.40V167.51h0.380V176.40zM91.679 176.40V152.95h0.380V176.40zM91.879 176.40V174.76h0.380V176.40zM92.079 176.40V162.50h0.380V176.40zM92.279 176.40V165.09h0.380V176.40zM92.479 176.40V155.97h0.380V176.40zM92.679 176.40V155.11h0.380V176.40zM92.879 176.40V161.76h0.380V176.40zM93.078 176.40V164.35h0.380V176.40zM93.278 176.40V166.90h0.380V176.40zM93.478 176.40V160.97h0.380V176.40zM93.678 176.40V154.86h0.380V176.40zM93.878 176.40V169.93h0.380V176.40zM94.078 176.40V155.12h0.380V176.40zM94.278 176.40V155.50h0.380V176.40zM94.478 176.40V165.68h0.380V176.40zM94.677 176.40V167.03h0.380V176.40zM94.877 176.40V153.88h0.380V176.40zM95.077 176.40V161.28h0.380V176.40zM95.277 176.40V166.86h0.380V176.40zM95.477 176.40V155.79h0.380V176.40zM95.677 176.40V171.04h0.380V176.40zM95.877 176.40V155.98h0.380V176.40zM96.077 176.40V170.43h0.380V176.40zM96.277 176.40V160.31h0.380V176.40zM96.476 176.40V154.00h0.380V176.40zM96.676 176.40V172.72h0.380V176.40zM96.876 176.40V151.33h0.380V176.40zM97.076 176.40V158.21h0.380V176.40zM97.276 176.40V170.49h0.380V176.40zM97.476 176.40V160.05h0.380V176.40zM97.676 176.40V168.38h0.380V176.40zM97.876 176.40V172.39h0.380V176.40zM98.075 176.40V153.80h0.380V176.40zM98.275 176.40V164.42h0.380V176.40zM98.475 176.40V169.38h0.380V176.40zM98.675 176.40V165.03h0.380V176.40zM98.875 176.40V167.65h0.380V176.40zM99.075 176.40V167.85h0.380V176.40zM99.275 176.40V154.52h0.380V176.40zM99.475 176.40V166.05h0.380V176.40zM99.674 176.40V157.90h0.380V176.40zM99.874 176.40V154.30h0.380V176.40zM100.074 176.40V161.10h0.380V176.40zM100.274 176.40V169.95h0.380V176.40zM100.474 176.40V169.18h0.380V176.40zM100.674 176.40V164.93h0.380V176.40zM100.874 176.40V155.40h0.380V176.40zM101.074 176.40V172.69h0.380V176.40zM101.274 176.40V159.68h0.380V176.40zM101.473 176.40V158.71h0.380V176.40zM101.673 176.40V163.92h0.380V176.40zM101.873 176.40V162.02h0.380V176.40zM102.073 176.40V168.13h0.380V176.40zM102.273 176.40V157.52h0.380V176.40zM102.473 176.40V172.93h0.380V176.40zM102.673 176.40V155.12h0.380V176.40zM102.873 176.40V167.17h0.380V176.40zM103.072 176.40V151.01h0.380V176.40zM103.272 176.40V158.42h0.380V176.40zM103.472 176.40V155.43h0.380V176.40zM103.672 176.40V150.59h0.380V176.40zM103.872 176.40V161.90h0.380V176.40zM104.072 176.40V154.59h0.380V176.40zM104.272 176.40V152.85h0.380V176.40zM104.472 176.40V154.63h0.380V176.40zM104.671 176.40V163.46h0.380V176.40zM104.871 176.40V166.12h0.380V176.40zM105.071 176.40V154.66h0.380V176.40zM105.271 176.40V152.06h0.380V176.40zM105.471 176.40V153.66h0.380V176.40zM105.671 176.40V157.40h0.380V176.40zM105.871 176.40V165.27h0.380V176.40zM106.071 176.40V155.79h0.380V176.40zM106.271 176.40V157.55h0.380V176.40zM106.470 176.40V159.68h0.380V176.40zM106.670 176.40V162.35h0.380V176.40zM106.870 176.40V169.74h0.380V176.40zM107.070 176.40V158.54h0.380V176.40zM107.270 176.40V169.92h0.380V176.40zM107.470 176.40V164.67h0.380V176.40zM107.670 176.40V153.64h0.380V176.40zM107.870 176.40V164.25h0.380V176.40zM108.069 176.40V155.37h0.380V176.40zM108.269 176.40V165.86h0.380V176.40zM108.469 176.40V163.54h0.380V176.40zM108.669 176.40V163.12h0.380V176.40zM108.869 176.40V155.94h0.380V176.40zM109.069 176.40V155.71h0.380V176.40zM109.269 176.40V170.86h0.380V176.40zM109.469 176.40V157.62h0.380V176.40zM109.668 176.40V156.52h0.380V176.40zM109.868 176.40V150.71h0.380V176.40zM110.068 176.40V154.23h0.380V176.40zM110.268 176.40V154.83h0.380V176.40zM110.468 176.40V163.64h0.380V176.40zM110.668 176.40V166.57h0.380V176.40zM110.868 176.40V170.90h0.380V176.40zM111.068 176.40V160.69h0.380V176.40zM111.268 176.40V155.54h0.380V176.40zM111.467 176.40V165.90h0.380V176.40zM111.667 176.40V157.49h0.380V176.40zM111.867 176.40V150.30h0.380V176.40zM112.067 176.40V152.81h0.380V176.40zM112.267 176.40V166.68h0.380V176.40zM112.467 176.40V161.04h0.380V176.40zM112.667 176.40V156.16h0.380V176.40zM112.867 176.40V166.81h0.380V176.40zM113.066 176.40V169.72h0.380V176.40zM113.266 176.40V169.32h0.380V176.40zM113.466 176.40V164.51h0.380V176.40zM113.666 176.40V170.41h0.380V176.40zM113.866 176.40V167.33h0.380V176.40zM114.066 176.40V152.44h0.380V176.40zM114.266 176.40V159.92h0.380V176.40zM114.466 176.40V161.95h0.380V176.40zM114.665 176.40V162.15h0.380V176.40zM114.865 176.40V169.21h0.380V176.40zM115.065 176.40V153.48h0.380V176.40zM115.265 176.40V169.16h0.380V176.40zM115.465 176.40V166.99h0.380V176.40zM115.665 176.40V174.76h0.380V176.40zM115.865 176.40V162.92h0.380V176.40zM116.065 176.40V156.93h0.380V176.40zM116.265 176.40V167.03h0.380V176.40zM116.464 176.40V165.75h0.380V176.40zM116.664 176.40V163.41h0.380V176.40zM116.864 176.40V168.65h0.380V176.40zM117.064 176.40V159.34h0.380V176.40zM117.264 176.40V166.11h0.380V176.40zM117.464 176.40V154.95h0.380V176.40zM117.664 176.40V172.10h0.380V176.40zM117.864 176.40V144.84h0.380V176.40zM118.063 176.40V157.63h0.380V176.40zM118.263 176.40V160.99h0.380V176.40zM118.463 176.40V154.59h0.380V176.40zM118.663 176.40V154.76h0.380V176.40zM118.863 176.40V152.15h0.380V176.40zM119.063 176.40V165.96h0.380V176.40zM119.263 176.40V170.60h0.380V176.40zM119.463 176.40V172.66h0.380V176.40zM119.662 176.40V166.10h0.380V176.40zM119.862 176.40V155.56h0.380V176.40zM120.062 176.40V170.23h0.380V176.40zM120.262 176.40V163.22h0.380V176.40zM120.462 176.40V170.21h0.380V176.40zM120.662 176.40V155.77h0.380V176.40zM120.862 176.40V167.64h0.380V176.40zM121.062 176.40V155.17h0.380V176.40zM121.262 176.40V155.58h0.380V176.40zM121.461 176.40V155.76h0.380V176.40zM121.661 176.40V161.32h0.380V176.40zM121.861 176.40V155.51h0.380V176.40zM122.061 176.40V168.38h0.380V176.40zM122.261 176.40V158.92h0.380V176.40zM122.461 176.40V152.36h0.380V176.40zM122.661 176.40V152.28h0.380V176.40zM122.861 176.40V161.23h0.380V176.40zM123.060 176.40V169.06h0.380V176.40zM123.260 176.40V152.36h0.380V176.40zM123.460 176.40V166.19h0.380V176.40zM123.660 176.40V153.89h0.380V176.40zM123.860 176.40V160.32h0.380V176.40zM124.060 176.40V153.19h0.380V176.40zM124.260 176.40V153.78h0.380V176.40zM124.460 176.40V162.94h0.380V176.40zM124.659 176.40V160.97h0.380V176.40zM124.859 176.40V164.58h0.380V176.40zM125.059 176.40V171.24h0.380V176.40zM125.259 176.40V155.76h0.380V176.40zM125.459 176.40V160.62h0.380V176.40zM125.659 176.40V155.45h0.380V176.40zM125.859 176.40V162.11h0.380V176.40zM126.059 176.40V168.24h0.380V176.40zM126.259 176.40V167.52h0.380V176.40zM126.458 176.40V171.59h0.380V176.40zM126.658 176.40V166.25h0.380V176.40zM126.858 176.40V158.67h0.380V176.40zM127.058 176.40V159.98h0.380V176.40zM127.258 176.40V165.49h0.380V176.40zM127.458 176.40V164.99h0.380V176.40zM127.658 176.40V166.18h0.380V176.40zM127.858 176.40V165.54h0.380V176.40zM128.057 176.40V155.62h0.380V176.40zM128.257 176.40V171.39h0.380V176.40zM128.457 176.40V158.78h0.380V176.40zM128.657 176.40V165.70h0.380V176.40zM128.857 176.40V168.14h0.380V176.40zM129.057 176.40V163.52h0.380V176.40zM129.257 176.40V163.65h0.380V176.40zM129.457 176.40V160.60h0.380V176.40zM129.656 176.40V153.20h0.380V176.40zM129.856 176.40V155.69h0.380V176.40zM130.056 176.40V163.54h0.380V176.40zM130.256 176.40V155.81h0.380V176.40zM130.456 176.40V173.50h0.380V176.40zM130.656 176.40V155.60h0.380V176.40zM130.856 176.40V162.54h0.380V176.40zM131.056 176.40V167.54h0.380V176.40zM131.256 176.40V161.67h0.380V176.40zM131.455 176.40V167.28h0.380V176.40zM131.655 176.40V164.13h0.380V176.40zM131.855 176.40V162.27h0.380V176.40zM132.055 176.40V153.75h0.380V176.40zM132.255 176.40V156.62h0.380V176.40zM132.455 176.40V167.68h0.380V176.40zM132.655 176.40V162.48h0.380V176.40zM132.855 176.40V153.93h0.380V176.40zM133.054 176.40V156.22h0.380V176.40zM133.254 176.40V152.82h0.380V176.40zM133.454 176.40V147.92h0.380V176.40zM133.654 176.40V166.08h0.380V176.40zM133.854 176.40V172.87h0.380V176.40zM134.054 176.40V159.61h0.380V176.40zM134.254 176.40V152.38h0.380V176.40zM134.454 176.40V156.39h0.380V176.40zM134.653 176.40V153.05h0.380V176.40zM134.853 176.40V155.23h0.380V176.40zM135.053 176.40V157.15h0.380V176.40zM135.253 176.40V162.69h0.380V176.40zM135.453 176.40V167.01h0.380V176.40zM135.653 176.40V167.52h0.380V176.40zM135.853 176.40V149.89h0.380V176.40zM136.053 176.40V168.66h0.380V176.40zM136.253 176.40V164.93h0.380V176.40zM136.452 176.40V159.82h0.380V176.40zM136.652 176.40V153.21h0.380V176.40zM136.852 176.40V158.64h0.380V176.40zM137.052 176.40V160.06h0.380V176.40zM137.252 176.40V170.11h0.380V176.40zM137.452 176.40V167.64h0.380V176.40zM137.652 176.40V172.25h0.380V176.40zM137.852 176.40V158.24h0.380V176.40zM138.051 176.40V167.74h0.380V176.40zM138.251 176.40V156.31h0.380V176.40zM138.451 176.40V154.69h0.380V176.40zM138.651 176.40V169.28h0.380V176.40zM138.851 176.40V165.25h0.380V176.40zM139.051 176.40V166.41h0.380V176.40zM139.251 176.40V155.75h0.380V176.40zM139.451 176.40V155.81h0.380V176.40zM139.650 176.40V171.30h0.380V176.40zM139.850 176.40V160.17h0.380V176.40zM140.050 176.40V163.83h0.380V176.40zM140.250 176.40V155.71h0.380V176.40zM140.450 176.40V170.19h0.380V176.40zM140.650 176.40V164.89h0.380V176.40zM140.850 176.40V155.78h0.380V176.40zM141.050 176.40V153.01h0.380V176.40zM141.250 176.40V167.56h0.380V176.40zM141.449 176.40V167.09h0.380V176.40zM141.649 176.40V158.93h0.380V176.40zM141.849 176.40V161.04h0.380V176.40zM142.049 176.40V163.56h0.380V176.40zM142.249 176.40V167.62h0.380V176.40zM142.449 176.40V153.46h0.380V176.40zM142.649 176.40V155.18h0.380V176.40zM142.849 176.40V166.68h0.380V176.40zM143.048 176.40V162.27h0.380V176.40zM143.248 176.40V155.13h0.380V176.40zM143.448 176.40V155.08h0.380V176.40zM143.648 176.40V158.62h0.380V176.40zM143.848 176.40V163.46h0.380V176.40zM144.048 176.40V153.24h0.380V176.40zM144.248 176.40V166.39h0.380V176.40zM144.448 176.40V161.89h0.380V176.40zM144.647 176.40V166.00h0.380V176.40zM144.847 176.40V155.81h0.380V176.40zM145.047 176.40V166.54h0.380V176.40zM145.247 176.40V153.59h0.380V176.40zM145.447 176.40V154.94h0.380V176.40zM145.647 176.40V156.33h0.380V176.40zM145.847 176.40V169.77h0.380V176.40zM146.047 176.40V165.39h0.380V176.40zM146.247 176.40V167.80h0.380V176.40zM146.446 176.40V163.00h0.380V176.40zM146.646 176.40V170.09h0.380V176.40zM146.846 176.40V168.77h0.380V176.40zM147.046 176.40V162.16h0.380V176.40zM147.246 176.40V155.13h0.380V176.40zM147.446 176.40V155.14h0.380V176.40zM147.646 176.40V165.04h0.380V176.40zM147.846 176.40V165.41h0.380V176.40zM148.045 176.40V154.31h0.380V176.40zM148.245 176.40V153.84h0.380V176.40zM148.445 176.40V164.06h0.380V176.40zM148.645 176.40V145.53h0.380V176.40zM148.845 176.40V167.16h0.380V176.40zM149.045 176.40V162.23h0.380V176.40zM149.245 176.40V157.64h0.380V176.40zM149.445 176.40V166.05h0.380V176.40zM149.644 176.40V155.54h0.380V176.40zM149.844 176.40V168.56h0.380V176.40zM150.044 176.40V155.82h0.380V176.40zM150.244 176.40V153.95h0.380V176.40zM150.444 176.40V158.88h0.380V176.40zM150.644 176.40V152.42h0.380V176.40zM150.844 176.40V163.41h0.380V176.40zM151.044 176.40V165.35h0.380V176.40zM151.244 176.40V157.39h0.380V176.40zM151.443 176.40V154.57h0.380V176.40zM151.643 176.40V155.55h0.380V176.40zM151.843 176.40V158.97h0.380V176.40zM152.043 176.40V165.59h0.380V176.40zM152.243 176.40V165.27h0.380V176.40zM152.443 176.40V153.80h0.380V176.40zM152.643 176.40V153.38h0.380V176.40zM152.843 176.40V153.55h0.380V176.40zM153.042 176.40V151.51h0.380V176.40zM153.242 176.40V156.85h0.380V176.40zM153.442 176.40V155.77h0.380V176.40zM153.642 176.40V167.80h0.380V176.40zM153.842 176.40V165.84h0.380V176.40zM154.042 176.40V170.62h0.380V176.40zM154.242 176.40V166.23h0.380V176.40zM154.442 176.40V162.04h0.380V176.40zM154.641 176.40V163.14h0.380V176.40zM154.841 176.40V170.29h0.380V176.40zM155.041 176.40V170.93h0.380V176.40zM155.241 176.40V157.11h0.380V176.40zM155.441 176.40V168.98h0.380V176.40zM155.641 176.40V155.79h0.380V176.40zM155.841 176.40V162.21h0.380V176.40zM156.041 176.40V165.98h0.380V176.40zM156.241 176.40V164.35h0.380V176.40zM156.440 176.40V156.14h0.380V176.40zM156.640 176.40V165.50h0.380V176.40zM156.840 176.40V157.92h0.380V176.40zM157.040 176.40V148.33h0.380V176.40zM157.240 176.40V174.26h0.380V176.40zM157.440 176.40V154.00h0.380V176.40zM157.640 176.40V165.62h0.380V176.40zM157.840 176.40V154.90h0.380V176.40zM158.039 176.40V162.29h0.380V176.40zM158.239 176.40V171.76h0.380V176.40zM158.439 176.40V168.92h0.380V176.40zM158.639 176.40V170.27h0.380V176.40zM158.839 176.40V168.97h0.380V176.40zM159.039 176.40V165.02h0.380V176.40zM159.239 176.40V171.26h0.380V176.40zM159.439 176.40V155.40h0.380V176.40zM159.638 176.40V161.44h0.380V176.40zM159.838 176.40V154.42h0.380V176.40zM160.038 176.40V153.54h0.380V176.40zM160.238 176.40V154.14h0.380V176.40zM160.438 176.40V153.91h0.380V176.40zM160.638 176.40V153.96h0.380V176.40zM160.838 176.40V174.04h0.380V176.40zM161.038 176.40V164.20h0.380V176.40zM161.238 176.40V162.12h0.380V176.40zM161.437 176.40V163.60h0.380V176.40zM161.637 176.40V155.21h0.380V176.40zM161.837 176.40V157.67h0.380V176.40zM162.037 176.40V161.64h0.380V176.40zM162.237 176.40V169.52h0.380V176.40zM162.437 176.40V163.64h0.380V176.40zM162.637 176.40V155.91h0.380V176.40zM162.837 176.40V155.51h0.380V176.40zM163.036 176.40V170.41h0.380V176.40zM163.236 176.40V168.54h0.380V176.40zM163.436 176.40V159.82h0.380V176.40zM163.636 176.40V160.50h0.380V176.40zM163.836 176.40V159.58h0.380V176.40zM164.036 176.40V166.15h0.380V176.40zM164.236 176.40V160.46h0.380V176.40zM164.436 176.40V154.93h0.380V176.40zM164.635 176.40V154.79h0.380V176.40zM164.835 176.40V166.98h0.380V176.40zM165.035 176.40V164.63h0.380V176.40zM165.235 176.40V154.67h0.380V176.40zM165.435 176.40V163.26h0.380V176.40zM165.635 176.40V154.37h0.380V176.40zM165.835 176.40V155.22h0.380V176.40zM166.035 176.40V163.76h0.380V176.40zM166.235 176.40V154.35h0.380V176.40zM166.434 176.40V160.34h0.380V176.40zM166.634 176.40V163.35h0.380V176.40zM166.834 176.40V164.19h0.380V176.40zM167.034 176.40V160.96h0.380V176.40zM167.234 176.40V170.81h0.380V176.40zM167.434 176.40V154.35h0.380V176.40zM167.634 176.40V167.29h0.380V176.40zM167.834 176.40V172.25h0.380V176.40zM168.033 176.40V164.45h0.380V176.40zM168.233 176.40V167.26h0.380V176.40zM168.433 176.40V159.75h0.380V176.40zM168.633 176.40V167.54h0.380V176.40zM168.833 176.40V156.73h0.380V176.40zM169.033 176.40V171.22h0.380V176.40zM169.233 176.40V166.72h0.380V176.40zM169.433 176.40V170.04h0.380V176.40zM169.632 176.40V152.50h0.380V176.40zM169.832 176.40V171.52h0.380V176.40zM170.032 176.40V162.29h0.380V176.40zM170.232 176.40V158.79h0.380V176.40zM170.432 176.40V173.77h0.380V176.40zM170.632 176.40V154.83h0.380V176.40zM170.832 176.40V153.13h0.380V176.40zM171.032 176.40V170.08h0.380V176.40zM171.232 176.40V167.06h0.380V176.40zM171.431 176.40V156.75h0.380V176.40zM171.631 176.40V169.15h0.380V176.40zM171.831 176.40V160.97h0.380V176.40zM172.031 176.40V166.43h0.380V176.40zM172.231 176.40V163.93h0.380V176.40zM172.431 176.40V169.49h0.380V176.40zM172.631 176.40V163.44h0.380V176.40zM172.831 176.40V161.21h0.380V176.40zM173.030 176.40V161.85h0.380V176.40zM173.230 176.40V158.67h0.380V176.40zM173.430 176.40V155.15h0.380V176.40zM173.630 176.40V166.89h0.380V176.40zM173.830 176.40V162.99h0.380V176.40zM174.030 176.40V155.10h0.380V176.40zM174.230 176.40V167.55h0.380V176.40zM174.430 176.40V168.86h0.380V176.40zM174.629 176.40V162.42h0.380V176.40zM174.829 176.40V164.85h0.380V176.40zM175.029 176.40V170.73h0.380V176.40zM175.229 176.40V158.90h0.380V176.40zM175.429 176.40V161.23h0.380V176.40zM175.629 176.40V155.63h0.380V176.40zM175.829 176.40V165.86h0.380V176.40zM176.029 176.40V161.85h0.380V176.40zM176.229 176.40V153.07h0.380V176.40zM176.428 176.40V154.09h0.380V176.40zM176.628 176.40V155.28h0.380V176.40zM176.828 176.40V154.96h0.380V176.40zM177.028 176.40V160.91h0.380V176.40zM177.228 176.40V167.37h0.380V176.40zM177.428 176.40V153.99h0.380V176.40zM177.628 176.40V165.76h0.380V176.40zM177.828 176.40V153.07h0.380V176.40zM178.027 176.40V162.89h0.380V176.40zM178.227 176.40V158.09h0.380V176.40zM178.427 176.40V155.50h0.380V176.40zM178.627 176.40V164.19h0.380V176.40zM178.827 176.40V155.73h0.380V176.40zM179.027 176.40V151.58h0.380V176.40zM179.227 176.40V168.03h0.380V176.40zM179.427 176.40V158.27h0.380V176.40zM179.626 176.40V166.21h0.380V176.40zM179.826 176.40V155.74h0.380V176.40zM180.026 176.40V157.22h0.380V176.40zM180.226 176.40V165.44h0.380V176.40zM180.426 176.40V162.10h0.380V176.40zM180.626 176.40V155.03h0.380V176.40zM180.826 176.40V159.97h0.380V176.40zM181.026 176.40V159.66h0.380V176.40zM181.226 176.40V158.32h0.380V176.40zM181.425 176.40V169.07h0.380V176.40zM181.625 176.40V165.11h0.380V176.40zM181.825 176.40V153.35h0.380V176.40zM182.025 176.40V170.59h0.380V176.40zM182.225 176.40V161.74h0.380V176.40zM182.425 176.40V153.71h0.380V176.40zM182.625 176.40V172.65h0.380V176.40zM182.825 176.40V165.50h0.380V176.40zM183.024 176.40V151.64h0.380V176.40zM183.224 176.40V167.20h0.380V176.40zM183.424 176.40V165.10h0.380V176.40zM183.624 176.40V155.81h0.380V176.40zM183.824 176.40V165.15h0.380V176.40zM184.024 176.40V165.08h0.380V176.40zM184.224 176.40V157.22h0.380V176.40zM184.424 176.40V164.42h0.380V176.40zM184.623 176.40V163.30h0.380V176.40zM184.823 176.40V170.90h0.380V176.40zM185.023 176.40V160.87h0.380V176.40zM185.223 176.40V168.47h0.380V176.40zM185.423 176.40V159.69h0.380V176.40zM185.623 176.40V164.14h0.380V176.40zM185.823 176.40V172.31h0.380V176.40zM186.023 176.40V167.38h0.380V176.40zM186.223 176.40V154.55h0.380V176.40zM186.422 176.40V154.10h0.380V176.40zM186.622 176.40V163.71h0.380V176.40zM186.822 176.40V153.71h0.380V176.40zM187.022 176.40V168.80h0.380V176.40zM187.222 176.40V169.86h0.380V176.40zM187.422 176.40V148.90h0.380V176.40zM187.622 176.40V157.42h0.380V176.40zM187.822 176.40V162.59h0.380V176.40zM188.021 176.40V165.06h0.380V176.40zM188.221 176.40V166.23h0.380V176.40zM188.421 176.40V171.32h0.380V176.40zM188.621 176.40V155.65h0.380V176.40zM188.821 176.40V155.27h0.380V176.40zM189.021 176.40V164.97h0.380V176.40zM189.221 176.40V170.08h0.380V176.40zM189.421 176.40V162.19h0.380V176.40zM189.620 176.40V151.64h0.380V176.40zM189.820 176.40V169.99h0.380V176.40zM190.020 176.40V154.61h0.380V176.40zM190.220 176.40V156.91h0.380V176.40zM190.420 176.40V164.93h0.380V176.40zM190.620 176.40V168.43h0.380V176.40zM190.820 176.40V163.88h0.380V176.40zM191.020 176.40V164.26h0.380V176.40zM191.220 176.40V164.84h0.380V176.40zM191.419 176.40V170.20h0.380V176.40zM191.619 176.40V163.99h0.380V176.40zM191.819 176.40V165.04h0.380V176.40zM192.019 176.40V164.66h0.380V176.40zM192.219 176.40V166.79h0.380V176.40zM192.419 176.40V173.29h0.380V176.40zM192.619 176.40V156.72h0.380V176.40zM192.819 176.40V159.80h0.380V176.40zM193.018 176.40V168.66h0.380V176.40zM193.218 176.40V152.08h0.380V176.40zM193.418 176.40V171.55h0.380V176.40zM193.618 176.40V169.93h0.380V176.40zM193.818 176.40V151.04h0.380V176.40zM194.018 176.40V156.20h0.380V176.40zM194.218 176.40V172.64h0.380V176.40zM194.418 176.40V154.98h0.380V176.40zM194.617 176.40V146.52h0.380V176.40zM194.817 176.40V155.66h0.380V176.40zM195.017 176.40V150.76h0.380V176.40zM195.217 176.40V160.74h0.380V176.40zM195.417 176.40V163.04h0.380V176.40zM195.617 176.40V169.97h0.380V176.40zM195.817 176.40V160.41h0.380V176.40zM196.017 176.40V154.34h0.380V176.40zM196.217 176.40V158.37h0.380V176.40zM196.416 176.40V160.52h0.380V176.40zM196.616 176.40V166.63h0.380V176.40zM196.816 176.40V154.85h0.380V176.40zM197.016 176.40V159.03h0.380V176.40zM197.216 176.40V163.77h0.380V176.40zM197.416 176.40V171.42h0.380V176.40zM197.616 176.40V169.40h0.380V176.40zM197.816 176.40V163.63h0.380V176.40zM198.015 176.40V153.42h0.380V176.40zM198.215 176.40V170.99h0.380V176.40zM198.415 176.40V168.20h0.380V176.40zM198.615 176.40V158.86h0.380V176.40zM198.815 176.40V155.73h0.380V176.40zM199.015 176.40V153.72h0.380V176.40zM199.215 176.40V161.17h0.380V176.40zM199.415 176.40V157.88h0.380V176.40zM199.614 176.40V161.85h0.380V176.40zM199.814 176.40V161.77h0.380V176.40zM200.014 176.40V166.41h0.380V176.40zM200.214 176.40V155.07h0.380V176.40zM200.414 176.40V152.56h0.380V176.40zM200.614 176.40V159.34h0.380V176.40zM200.814 176.40V163.97h0.380V176.40zM201.014 176.40V154.19h0.380V176.40zM201.214 176.40V168.32h0.380V176.40zM201.413 176.40V155.21h0.380V176.40zM201.613 176.40V164.21h0.380V176.40zM201.813 176.40V172.22h0.380V176.40zM202.013 176.40V159.82h0.380V176.40zM202.213 176.40V163.53h0.380V176.40zM202.413 176.40V157.55h0.380V176.40zM202.613 176.40V171.00h0.380V176.40zM202.813 176.40V166.52h0.380V176.40zM203.012 176.40V155.77h0.380V176.40zM203.212 176.40V167.75h0.380V176.40zM203.412 176.40V164.84h0.380V176.40zM203.612 176.40V147.63h0.380V176.40zM203.812 176.40V160.07h0.380V176.40zM204.012 176.40V155.63h0.380V176.40zM204.212 176.40V156.30h0.380V176.40zM204.412 176.40V157.17h0.380V176.40zM204.611 176.40V152.43h0.380V176.40zM204.811 176.40V164.20h0.380V176.40zM205.011 176.40V171.29h0.380V176.40zM205.211 176.40V161.93h0.380V176.40zM205.411 176.40V167.22h0.380V176.40zM205.611 176.40V169.91h0.380V176.40zM205.811 176.40V157.42h0.380V176.40zM206.011 176.40V168.31h0.380V176.40zM206.211 176.40V174.05h0.380V176.40zM206.410 176.40V161.91h0.380V176.40zM206.610 176.40V163.87h0.380V176.40zM206.810 176.40V165.69h0.380V176.40zM207.010 176.40V172.92h0.380V176.40zM207.210 176.40V160.46h0.380V176.40zM207.410 176.40V154.85h0.380V176.40zM207.610 176.40V170.32h0.380V176.40zM207.810 176.40V161.54h0.380V176.40zM208.009 176.40V166.25h0.380V176.40zM208.209 176.40V168.57h0.380V176.40zM208.409 176.40V161.08h0.380V176.40zM208.609 176.40V171.42h0.380V176.40zM208.809 176.40V155.11h0.380V176.40zM209.009 176.40V165.49h0.380V176.40zM209.209 176.40V156.80h0.380V176.40zM209.409 176.40V166.56h0.380V176.40zM209.608 176.40V168.80h0.380V176.40zM209.808 176.40V165.30h0.380V176.40zM210.008 176.40V156.75h0.380V176.40zM210.208 176.40V155.10h0.380V176.40zM210.408 176.40V160.86h0.380V176.40zM210.608 176.40V157.30h0.380V176.40zM210.808 176.40V154.97h0.380V176.40zM211.008 176.40V164.94h0.380V176.40zM211.208 176.40V163.51h0.380V176.40zM211.407 176.40V155.38h0.380V176.40zM211.607 176.40V159.90h0.380V176.40zM211.807 176.40V163.23h0.380V176.40zM212.007 176.40V159.40h0.380V176.40zM212.207 176.40V170.78h0.380V176.40zM212.407 176.40V152.24h0.380V176.40zM212.607 176.40V161.64h0.380V176.40zM212.807 176.40V165.08h0.380V176.40zM213.006 176.40V155.65h0.380V176.40zM213.206 176.40V154.91h0.380V176.40zM213.406 176.40V165.11h0.380V176.40zM213.606 176.40V160.15h0.380V176.40zM213.806 176.40V151.53h0.380V176.40zM214.006 176.40V151.12h0.380V176.40zM214.206 176.40V162.86h0.380V176.40zM214.406 176.40V158.24h0.380V176.40zM214.605 176.40V169.79h0.380V176.40zM214.805 176.40V159.39h0.380V176.40zM215.005 176.40V153.40h0.380V176.40zM215.205 176.40V160.35h0.380V176.40zM215.405 176.40V152.73h0.380V176.40zM215.605 176.40V156.08h0.380V176.40zM215.805 176.40V151.12h0.380V176.40zM216.005 176.40V155.24h0.380V176.40zM216.205 176.40V173.10h0.380V176.40zM216.404 176.40V171.56h0.380V176.40zM216.604 176.40V159.22h0.380V176.40zM216.804 176.40V153.89h0.380V176.40zM217.004 176.40V160.33h0.380V176.40zM217.204 176.40V158.68h0.380V176.40zM217.404 176.40V161.56h0.380V176.40zM217.604 176.40V154.97h0.380V176.40z" fill="#ff7f0e"/>
<path d="M40.300 176.40V173.57h0.400V176.40zM40.500 176.40V171.26h0.400V176.40zM40.700 176.40V174.06h0.400V176.40zM40.900 176.40V174.10h0.400V176.40zM41.100 176.40V172.48h0.400V176.40zM41.300 176.40V173.32h0.400V176.40zM41.499 176.40V172.85h0.400V176.40zM41.699 176.40V173.22h0.400V176.40zM41.899 176.40V171.65h0.400V176.40zM42.099 176.40V172.19h0.400V176.40zM42.299 176.40V173.61h0.400V176.40zM42.499 176.40V171.71h0.400V176.40zM42.699 176.40V173.83h0.400V176.40zM42.899 176.40V172.62h0.400V176.40zM43.098 176.40V173.32h0.400V176.40zM43.298 176.40V175.02h0.400V176.40zM43.498 176.40V173.06h0.400V176.40zM43.698 176.40V173.80h0.400V176.40zM43.898 176.40V172.59h0.400V176.40zM44.098 176.40V172.21h0.400V176.40zM44.298 176.40V174.13h0.400V176.40zM44.498 176.40V175.13h0.400V176.40zM44.697 176.40V173.01h0.400V176.40zM44.897 176.40V173.49h0.400V176.40zM45.097 176.40V174.11h0.400V176.40zM45.297 176.40V173.04h0.400V176.40zM45.497 176.40V174.62h0.400V176.40zM45.697 176.40V173.08h0.400V176.40zM45.897 176.40V171.64h0.400V176.40zM46.097 176.40V174.98h0.400V176.40zM46.297 176.40V175.28h0.400V176.40zM46.496 176.40V172.20h0.400V176.40zM46.696 176.40V173.61h0.400V176.40zM46.896 176.40V172.71h0.400V176.40zM47.096 176.40V173.84h0.400V176.40zM47.296 176.40V172.85h0.400V176.40zM47.496 176.40V174.56h0.400V176.40zM47.696 176.40V174.33h0.400V176.40zM47.896 176.40V174.44h0.400V176.40zM48.095 176.40V173.39h0.400V176.40zM48.295 176.40V174.02h0.400V176.40zM48.495 176.40V174.05h0.400V176.40zM48.695 176.40V174.21h0.400V176.40zM48.895 176.40V168.52h0.400V176.40zM49.095 176.40V172.83h0.400V176.40zM49.295 176.40V172.43h0.400V176.40zM49.495 176.40V172.32h0.400V176.40zM49.694 176.40V173.81h0.400V176.40zM49.894 176.40V174.56h0.400V176.40zM50.094 176.40V172.26h0.400V176.40zM50.294 176.40V174.47h0.400V176.40zM50.494 176.40V170.86h0.400V176.40zM50.694 176.40V174.01h0.400V176.40zM50.894 176.40V174.11h0.400V176.40zM51.094 176.40V174.82h0.400V176.40zM51.294 176.40V173.22h0.400V176.40zM51.493 176.40V171.60h0.400V176.40zM51.693 176.40V172.93h0.400V176.40zM51.893 176.40V173.27h0.400V176.40zM52.093 176.40V173.55h0.400V176.40zM52.293 176.40V174.36h0.400V176.40zM52.493 176.40V173.28h0.400V176.40zM52.693 176.40V172.68h0.400V176.40zM52.893 176.40V173.15h0.400V176.40zM53.092 176.40V171.01h0.400V176.40zM53.292 176.40V170.50h0.400V176.40zM53.492 176.40V168.79h0.400V176.40zM53.692 176.40V173.01h0.400V176.40zM53.892 176.40V173.49h0.400V176.40zM54.092 176.40V173.94h0.400V176.40zM54.292 176.40V173.54h0.400V176.40zM54.492 176.40V174.11h0.400V176.40zM54.691 176.40V171.43h0.400V176.40zM54.891 176.40V171.95h0.400V176.40zM55.091 176.40V172.63h0.400V176.40zM55.291 176.40V174.97h0.400V176.40zM55.491 176.40V173.42h0.400V176.40zM55.691 176.40V172.43h0.400V176.40zM55.891 176.40V173.71h0.400V176.40zM56.091 176.40V173.25h0.400V176.40zM56.291 176.40V172.60h0.400V176.40zM56.490 176.40V172.65h0.400V176.40zM56.690 176.40V172.31h0.400V176.40zM56.890 176.40V173.63h0.400V176.40zM57.090 176.40V174.03h0.400V176.40zM57.290 176.40V170.49h0.400V176.40zM57.490 176.40V172.16h0.400V176.40zM57.690 176.40V173.73h0.400V176.40zM57.890 176.40V173.04h0.400V176.40zM58.089 176.40V174.05h0.400V176.40zM58.289 176.40V173.30h0.400V176.40zM58.489 176.40V174.04h0.400V176.40zM58.689 176.40V173.91h0.400V176.40zM58.889 176.40V171.98h0.400V176.40zM59.089 176.40V172.15h0.400V176.40zM59.289 176.40V172.23h0.400V176.40zM59.489 176.40V172.88h0.400V176.40zM59.688 176.40V172.88h0.400V176.40zM59.888 176.40V173.29h0.400V176.40zM60.088 176.40V172.99h0.400V176.40zM60.288 176.40V174.66h0.400V176.40zM60.488 176.40V174.17h0.400V176.40zM60.688 176.40V172.17h0.400V176.40zM60.888 176.40V173.03h0.400V176.40zM61.088 176.40V171.31h0.400V176.40zM61.288 176.40V172.81h0.400V176.40zM61.487 176.40V171.28h0.400V176.40zM61.687 176.40V174.47h0.400V176.40zM61.887 176.40V174.89h0.400V176.40zM62.087 176.40V172.67h0.400V176.40zM62.287 176.40V174.15h0.400V176.40zM62.487 176.40V173.08h0.400V176.40zM62.687 176.40V172.26h0.400V176.40zM62.887 176.40V172.25h0.400V176.40zM63.086 176.40V173.70h0.400V176.40zM63.286 176.40V172.70h0.400V176.40zM63.486 176.40V174.49h0.400V176.40zM63.686 176.40V171.86h0.400V176.40zM63.886 176.40V174.67h0.400V176.40zM64.086 176.40V173.30h0.400V176.40zM64.286 176.40V170.58h0.400V176.40zM64.486 176.40V173.41h0.400V176.40zM64.685 176.40V173.20h0.400V176.40zM64.885 176.40V171.73h0.400V176.40zM65.085 176.40V171.46h0.400V176.40zM65.285 176.40V174.06h0.400V176.40zM65.485 176.40V174.24h0.400V176.40zM65.685 176.40V174.36h0.400V176.40zM65.885 176.40V174.11h0.400V176.40zM66.085 176.40V170.50h0.400V176.40zM66.285 176.40V173.98h0.400V176.40zM66.484 176.40V172.12h0.400V176.40zM66.684 176.40V171.99h0.400V176.40zM66.884 176.40V171.56h0.400V176.40zM67.084 176.40V171.71h0.400V176.40zM67.284 176.40V174.02h0.400V176.40zM67.484 176.40V175.17h0.400V176.40zM67.684 176.40V173.41h0.400V176.40zM67.884 176.40V174.29h0.400V176.40zM68.083 176.40V170.47h0.400V176.40zM68.283 176.40V174.14h0.400V176.40zM68.483 176.40V172.72h0.400V176.40zM68.683 176.40V174.28h0.400V176.40zM68.883 176.40V173.62h0.400V176.40zM69.083 176.40V174.14h0.400V176.40zM69.283 176.40V173.50h0.400V176.40zM69.483 176.40V169.77h0.400V176.40zM69.682 176.40V171.91h0.400V176.40zM69.882 176.40V174.36h0.400V176.40zM70.082 176.40V172.78h0.400V176.40zM70.282 176.40V173.65h0.400V176.40zM70.482 176.40V173.17h0.400V176.40zM70.682 176.40V172.48h0.400V176.40zM70.882 176.40V173.46h0.400V176.40zM71.082 176.40V174.51h0.400V176.40zM71.282 176.40V172.92h0.400V176.40zM71.481 176.40V173.08h0.400V176.40zM71.681 176.40V174.36h0.400V176.40zM71.881 176.40V173.15h0.400V176.40zM72.081 176.40V172.45h0.400V176.40zM72.281 176.40V174.17h0.400V176.40zM72.481 176.40V171.20h0.400V176.40zM72.681 176.40V172.92h0.400V176.40zM72.881 176.40V171.71h0.400V176.40zM73.080 176.40V171.83h0.400V176.40zM73.280 176.40V173.19h0.400V176.40zM73.480 176.40V172.89h0.400V176.40zM73.680 176.40V173.99h0.400V176.40zM73.880 176.40V174.35h0.400V176.40zM74.080 176.40V172.90h0.400V176.40zM74.280 176.40V174.21h0.400V176.40zM74.480 176.40V173.65h0.400V176.40zM74.679 176.40V172.39h0.400V176.40zM74.879 176.40V173.00h0.400V176.40zM75.079 176.40V172.17h0.400V176.40zM75.279 176.40V171.75h0.400V176.40zM75.479 176.40V169.97h0.400V176.40zM75.679 176.40V172.50h0.400V176.40zM75.879 176.40V173.20h0.400V176.40zM76.079 176.40V173.32h0.400V176.40zM76.279 176.40V169.04h0.400V176.40zM76.478 176.40V170.20h0.400V176.40zM76.678 176.40V173.16h0.400V176.40zM76.878 176.40V172.77h0.400V176.40zM77.078 176.40V174.45h0.400V176.40zM77.278 176.40V174.59h0.400V176.40zM77.478 176.40V171.05h0.400V176.40zM77.678 176.40V174.20h0.400V176.40zM77.878 176.40V174.11h0.400V176.40zM78.077 176.40V172.50h0.400V176.40zM78.277 176.40V171.88h0.400V176.40zM78.477 176.40V174.53h0.400V176.40zM78.677 176.40V173.51h0.400V176.40zM78.877 176.40V173.28h0.400V176.40zM79.077 176.40V172.36h0.400V176.40zM79.277 176.40V173.32h0.400V176.40zM79.477 176.40V172.09h0.400V176.40zM79.676 176.40V173.43h0.400V176.40zM79.876 176.40V171.89h0.400V176.40zM80.076 176.40V172.51h0.400V176.40zM80.276 176.40V172.83h0.400V176.40zM80.476 176.40V171.91h0.400V176.40zM80.676 176.40V170.90h0.400V176.40zM80.876 176.40V173.76h0.400V176.40zM81.076 176.40V173.28h0.400V176.40zM81.276 176.40V172.23h0.400V176.40zM81.475 176.40V172.36h0.400V176.40zM81.675 176.40V174.20h0.400V176.40zM81.875 176.40V172.52h0.400V176.40zM82.075 176.40V173.56h0.400V176.40zM82.275 176.40V174.41h0.400V176.40zM82.475 176.40V172.67h0.400V176.40zM82.675 176.40V173.41h0.400V176.40zM82.875 176.40V172.04h0.400V176.40zM83.074 176.40V169.66h0.400V176.40zM83.274 176.40V171.03h0.400V176.40zM83.474 176.40V172.21h0.400V176.40zM83.674 176.40V174.20h0.400V176.40zM83.874 176.40V174.18h0.400V176.40zM84.074 176.40V174.67h0.400V176.40zM84.274 176.40V171.24h0.400V176.40zM84.474 176.40V172.93h0.400V176.40zM84.673 176.40V172.16h0.400V176.40zM84.873 176.40V173.31h0.400V176.40zM85.073 176.40V173.36h0.400V176.40zM85.273 176.40V173.76h0.400V176.40zM85.473 176.40V172.89h0.400V176.40zM85.673 176.40V174.13h0.400V176.40zM85.873 176.40V174.17h0.400V176.40zM86.073 176.40V173.79h0.400V176.40zM86.273 176.40V174.80h0.400V176.40zM86.472 176.40V170.66h0.400V176.40zM86.672 176.40V171.92h0.400V176.40zM86.872 176.40V174.61h0.400V176.40zM87.072 176.40V172.79h0.400V176.40zM87.272 176.40V174.53h0.400V176.40zM87.472 176.40V174.03h0.400V176.40zM87.672 176.40V174.09h0.400V176.40zM87.872 176.40V170.62h0.400V176.40zM88.071 176.40V172.94h0.400V176.40zM88.271 176.40V174.17h0.400V176.40zM88.471 176.40V172.70h0.400V176.40zM88.671 176.40V173.36h0.400V176.40zM88.871 176.40V174.44h0.400V176.40zM89.071 176.40V173.57h0.400V176.40zM89.271 176.40V172.46h0.400V176.40zM89.471 176.40V172.02h0.400V176.40zM89.670 176.40V174.13h0.400V176.40zM89.870 176.40V174.44h0.400V176.40zM90.070 176.40V173.68h0.400V176.40zM90.270 176.40V174.17h0.400V176.40zM90.470 176.40V172.12h0.400V176.40zM90.670 176.40V171.99h0.400V176.40zM90.870 176.40V172.53h0.400V176.40zM91.070 176.40V173.13h0.400V176.40zM91.270 176.40V172.65h0.400V176.40zM91.469 176.40V173.87h0.400V176.40zM91.669 176.40V171.32h0.400V176.40zM91.869 176.40V172.59h0.400V176.40zM92.069 176.40V173.12h0.400V176.40zM92.269 176.40V173.67h0.400V176.40zM92.469 176.40V173.91h0.400V176.40zM92.669 176.40V172.36h0.400V176.40zM92.869 176.40V172.51h0.400V176.40zM93.068 176.40V174.13h0.400V176.40zM93.268 176.40V173.33h0.400V176.40zM93.468 176.40V174.56h0.400V176.40zM93.668 176.40V171.72h0.400V176.40zM93.868 176.40V171.93h0.400V176.40zM94.068 176.40V173.98h0.400V176.40zM94.268 176.40V173.88h0.400V176.40zM94.468 176.40V175.13h0.400V176.40zM94.667 176.40V174.84h0.400V176.40zM94.867 176.40V171.81h0.400V176.40zM95.067 176.40V173.72h0.400V176.40zM95.267 176.40V174.48h0.400V176.40zM95.467 176.40V174.25h0.400V176.40zM95.667 176.40V173.05h0.400V176.40zM95.867 176.40V173.38h0.400V176.40zM96.067 176.40V173.03h0.400V176.40zM96.267 176.40V172.75h0.400V176.40zM96.466 176.40V173.82h0.400V176.40zM96.666 176.40V174.49h0.400V176.40zM96.866 176.40V173.48h0.400V176.40zM97.066 176.40V173.93h0.400V176.40zM97.266 176.40V173.11h0.400V176.40zM97.466 176.40V174.04h0.400V176.40zM97.666 176.40V173.80h0.400V176.40zM97.866 176.40V174.41h0.400V176.40zM98.065 176.40V174.12h0.400V176.40zM98.265 176.40V173.55h0.400V176.40zM98.465 176.40V172.24h0.400V176.40zM98.665 176.40V173.16h0.400V176.40zM98.865 176.40V174.68h0.400V176.40zM99.065 176.40V170.67h0.400V176.40zM99.265 176.40V169.87h0.400V176.40zM99.465 176.40V173.09h0.400V176.40zM99.664 176.40V170.58h0.400V176.40zM99.864 176.40V171.10h0.400V176.40zM100.064 176.40V173.67h0.400V176.40zM100.264 176.40V173.73h0.400V176.40zM100.464 176.40V172.88h0.400V176.40zM100.664 176.40V173.77h0.400V176.40zM100.864 176.40V174.52h0.400V176.40zM101.064 176.40V173.45h0.400V176.40zM101.264 176.40V173.86h0.400V176.40zM101.463 176.40V174.89h0.400V176.40zM101.663 176.40V173.82h0.400V176.40zM101.863 176.40V173.00h0.400V176.40zM102.063 176.40V172.68h0.400V176.40zM102.263 176.40V174.06h0.400V176.40zM102.463 176.40V174.48h0.400V176.40zM102.663 176.40V171.08h0.400V176.40zM102.863 176.40V173.69h0.400V176.40zM103.062 176.40V172.85h0.400V176.40zM103.262 176.40V173.94h0.400V176.40zM103.462 176.40V172.68h0.400V176.40zM103.662 176.40V173.14h0.400V176.40zM103.862 176.40V173.89h0.400V176.40zM104.062 176.40V171.79h0.400V176.40zM104.262 176.40V173.65h0.400V176.40zM104.462 176.40V171.81h0.400V176.40zM104.661 176.40V174.75h0.400V176.40zM104.861 176.40V172.53h0.400V176.40zM105.061 176.40V174.16h0.400V176.40zM105.261 176.40V172.49h0.400V176.40zM105.461 176.40V172.99h0.400V176.40zM105.661 176.40V173.26h0.400V176.40zM105.861 176.40V171.89h0.400V176.40zM106.061 176.40V173.23h0.400V176.40zM106.261 176.40V170.80h0.400V176.40zM106.460 176.40V173.91h0.400V176.40zM106.660 176.40V174.40h0.400V176.40zM106.860 176.40V174.74h0.400V176.40zM107.060 176.40V172.66h0.400V176.40zM107.260 176.40V173.92h0.400V176.40zM107.460 176.40V173.41h0.400V176.40zM107.660 176.40V174.26h0.400V176.40zM107.860 176.40V172.96h0.400V176.40zM108.059 176.40V173.95h0.400V176.40zM108.259 176.40V173.70h0.400V176.40zM108.459 176.40V173.33h0.400V176.40zM108.659 176.40V173.74h0.400V176.40zM108.859 176.40V172.93h0.400V176.40zM109.059 176.40V174.38h0.400V176.40zM109.259 176.40V172.71h0.400V176.40zM109.459 176.40V173.11h0.400V176.40zM109.658 176.40V173.97h0.400V176.40zM109.858 176.40V172.25h0.400V176.40zM110.058 176.40V174.65h0.400V176.40zM110.258 176.40V174.94h0.400V176.40zM110.458 176.40V173.19h0.400V176.40zM110.658 176.40V171.74h0.400V176.40zM110.858 176.40V173.50h0.400V176.40zM111.058 176.40V171.53h0.400V176.40zM111.258 176.40V174.30h0.400V176.40zM111.457 176.40V171.55h0.400V176.40zM111.657 176.40V173.68h0.400V176.40zM111.857 176.40V174.81h0.400V176.40zM112.057 176.40V171.73h0.400V176.40zM112.257 176.40V173.90h0.400V176.40zM112.457 176.40V172.42h0.400V176.40zM112.657 176.40V173.23h0.400V176.40zM112.857 176.40V172.45h0.400V176.40zM113.056 176.40V172.64h0.400V176.40zM113.256 176.40V172.54h0.400V176.40zM113.456 176.40V171.63h0.400V176.40zM113.656 176.40V172.16h0.400V176.40zM113.856 176.40V173.99h0.400V176.40zM114.056 176.40V173.30h0.400V176.40zM114.256 176.40V170.77h0.400V176.40zM114.456 176.40V173.54h0.400V176.40zM114.655 176.40V171.15h0.400V176.40zM114.855 176.40V174.16h0.400V176.40zM115.055 176.40V174.07h0.400V176.40zM115.255 176.40V174.31h0.400V176.40zM115.455 176.40V174.22h0.400V176.40zM115.655 176.40V171.99h0.400V176.40zM115.855 176.40V172.96h0.400V176.40zM116.055 176.40V173.09h0.400V176.40zM116.255 176.40V170.47h0.400V176.40zM116.454 176.40V173.95h0.400V176.40zM116.654 176.40V173.48h0.400V176.40zM116.854 176.40V174.87h0.400V176.40zM117.054 176.40V172.71h0.400V176.40zM117.254 176.40V174.98h0.400V176.40zM117.454 176.40V170.73h0.400V176.40zM117.654 176.40V173.98h0.400V176.40zM117.854 176.40V173.46h0.400V176.40zM118.053 176.40V171.52h0.400V176.40zM118.253 176.40V173.57h0.400V176.40zM118.453 176.40V172.59h0.400V176.40zM118.653 176.40V173.69h0.400V176.40zM118.853 176.40V174.66h0.400V176.40zM119.053 176.40V172.84h0.400V176.40zM119.253 176.40V173.06h0.400V176.40zM119.453 176.40V168.68h0.400V176.40zM119.652 176.40V174.10h0.400V176.40zM119.852 176.40V174.33h0.400V176.40zM120.052 176.40V173.76h0.400V176.40zM120.252 176.40V173.10h0.400V176.40zM120.452 176.40V173.64h0.400V176.40zM120.652 176.40V172.88h0.400V176.40zM120.852 176.40V173.78h0.400V176.40zM121.052 176.40V173.24h0.400V176.40zM121.252 176.40V172.69h0.400V176.40zM121.451 176.40V170.44h0.400V176.40zM121.651 176.40V172.59h0.400V176.40zM121.851 176.40V174.04h0.400V176.40zM122.051 176.40V170.25h0.400V176.40zM122.251 176.40V173.58h0.400V176.40zM122.451 176.40V172.58h0.400V176.40zM122.651 176.40V172.99h0.400V176.40zM122.851 176.40V171.64h0.400V176.40zM123.050 176.40V171.43h0.400V176.40zM123.250 176.40V171.53h0.400V176.40zM123.450 176.40V174.29h0.400V176.40zM123.650 176.40V172.85h0.400V176.40zM123.850 176.40V172.65h0.400V176.40zM124.050 176.40V170.27h0.400V176.40zM124.250 176.40V173.72h0.400V176.40zM124.450 176.40V173.09h0.400V176.40zM124.649 176.40V170.58h0.400V176.40zM124.849 176.40V172.08h0.400V176.40zM125.049 176.40V172.37h0.400V176.40zM125.249 176.40V171.66h0.400V176.40zM125.449 176.40V173.11h0.400V176.40zM125.649 176.40V171.41h0.400V176.40zM125.849 176.40V174.38h0.400V176.40zM126.049 176.40V174.15h0.400V176.40zM126.249 176.40V174.97h0.400V176.40zM126.448 176.40V173.20h0.400V176.40zM126.648 176.40V172.64h0.400V176.40zM126.848 176.40V174.53h0.400V176.40zM127.048 176.40V173.94h0.400V176.40zM127.248 176.40V172.01h0.400V176.40zM127.448 176.40V167.13h0.400V176.40zM127.648 176.40V173.48h0.400V176.40zM127.848 176.40V171.89h0.400V176.40zM128.047 176.40V173.25h0.400V176.40zM128.247 176.40V173.88h0.400V176.40zM128.447 176.40V174.74h0.400V176.40zM128.647 176.40V171.95h0.400V176.40zM128.847 176.40V173.55h0.400V176.40zM129.047 176.40V174.01h0.400V176.40zM129.247 176.40V170.50h0.400V176.40zM129.447 176.40V173.14h0.400V176.40zM129.646 176.40V173.33h0.400V176.40zM129.846 176.40V167.22h0.400V176.40zM130.046 176.40V174.79h0.400V176.40zM130.246 176.40V173.13h0.400V176.40zM130.446 176.40V174.18h0.400V176.40zM130.646 176.40V172.48h0.400V176.40zM130.846 176.40V173.29h0.400V176.40zM131.046 176.40V173.57h0.400V176.40zM131.246 176.40V173.72h0.400V176.40zM131.445 176.40V172.07h0.400V176.40zM131.645 176.40V174.11h0.400V176.40zM131.845 176.40V172.30h0.400V176.40zM132.045 176.40V172.47h0.400V176.40zM132.245 176.40V174.35h0.400V176.40zM132.445 176.40V174.94h0.400V176.40zM132.645 176.40V173.44h0.400V176.40zM132.845 176.40V172.03h0.400V176.40zM133.044 176.40V171.42h0.400V176.40zM133.244 176.40V173.96h0.400V176.40zM133.444 176.40V173.94h0.400V176.40zM133.644 176.40V173.61h0.400V176.40zM133.844 176.40V174.78h0.400V176.40zM134.044 176.40V173.27h0.400V176.40zM134.244 176.40V173.65h0.400V176.40zM134.444 176.40V173.60h0.400V176.40zM134.643 176.40V174.59h0.400V176.40zM134.843 176.40V173.46h0.400V176.40zM135.043 176.40V174.01h0.400V176.40zM135.243 176.40V172.56h0.400V176.40zM135.443 176.40V172.67h0.400V176.40zM135.643 176.40V174.04h0.400V176.40zM135.843 176.40V172.96h0.400V176.40zM136.043 176.40V172.53h0.400V176.40zM136.243 176.40V173.50h0.400V176.40zM136.442 176.40V172.25h0.400V176.40zM136.642 176.40V173.56h0.400V176.40zM136.842 176.40V175.08h0.400V176.40zM137.042 176.40V171.93h0.400V176.40zM137.242 176.40V174.45h0.400V176.40zM137.442 176.40V172.54h0.400V176.40zM137.642 176.40V173.59h0.400V176.40zM137.842 176.40V171.81h0.400V176.40zM138.041 176.40V171.88h0.400V176.40zM138.241 176.40V173.88h0.400V176.40zM138.441 176.40V173.36h0.400V176.40zM138.641 176.40V174.04h0.400V176.40zM138.841 176.40V172.24h0.400V176.40zM139.041 176.40V174.34h0.400V176.40zM139.241 176.40V173.45h0.400V176.40zM139.441 176.40V173.56h0.400V176.40zM139.640 176.40V173.64h0.400V176.40zM139.840 176.40V171.53h0.400V176.40zM140.040 176.40V174.20h0.400V176.40zM140.240 176.40V173.56h0.400V176.40zM140.440 176.40V173.58h0.400V176.40zM140.640 176.40V173.58h0.400V176.40zM140.840 176.40V173.62h0.400V176.40zM141.040 176.40V171.90h0.400V176.40zM141.240 176.40V174.29h0.400V176.40zM141.439 176.40V172.65h0.400V176.40zM141.639 176.40V172.46h0.400V176.40zM141.839 176.40V171.48h0.400V176.40zM142.039 176.40V172.46h0.400V176.40zM142.239 176.40V174.73h0.400V176.40zM142.439 176.40V172.94h0.400V176.40zM142.639 176.40V172.28h0.400V176.40zM142.839 176.40V174.01h0.400V176.40zM143.038 176.40V172.34h0.400V176.40zM143.238 176.40V173.53h0.400V176.40zM143.438 176.40V172.45h0.400V176.40zM143.638 176.40V171.30h0.400V176.40zM143.838 176.40V173.89h0.400V176.40zM144.038 176.40V173.27h0.400V176.40zM144.238 176.40V171.64h0.400V176.40zM144.438 176.40V173.06h0.400V176.40zM144.637 176.40V173.29h0.400V176.40zM144.837 176.40V173.27h0.400V176.40zM145.037 176.40V173.62h0.400V176.40zM145.237 176.40V173.91h0.400V176.40zM145.437 176.40V174.24h0.400V176.40zM145.637 176.40V173.35h0.400V176.40zM145.837 176.40V173.66h0.400V176.40zM146.037 176.40V173.70h0.400V176.40zM146.237 176.40V172.36h0.400V176.40zM146.436 176.40V173.51h0.400V176.40zM146.636 176.40V173.92h0.400V176.40zM146.836 176.40V172.94h0.400V176.40zM147.036 176.40V174.46h0.400V176.40zM147.236 176.40V173.16h0.400V176.40zM147.436 176.40V171.71h0.400V176.40zM147.636 176.40V172.97h0.400V176.40zM147.836 176.40V174.87h0.400V176.40zM148.035 176.40V171.74h0.400V176.40zM148.235 176.40V173.31h0.400V176.40zM148.435 176.40V172.51h0.400V176.40zM148.635 176.40V173.89h0.400V176.40zM148.835 176.40V173.68h0.400V176.40zM149.035 176.40V173.87h0.400V176.40zM149.235 176.40V171.56h0.400V176.40zM149.435 176.40V172.61h0.400V176.40zM149.634 176.40V172.85h0.400V176.40zM149.834 176.40V174.61h0.400V176.40zM150.034 176.40V170.73h0.400V176.40zM150.234 176.40V174.13h0.400V176.40zM150.434 176.40V173.48h0.400V176.40zM150.634 176.40V173.24h0.400V176.40zM150.834 176.40V171.41h0.400V176.40zM151.034 176.40V174.84h0.400V176.40zM151.234 176.40V173.47h0.400V176.40zM151.433 176.40V172.87h0.400V176.40zM151.633 176.40V173.99h0.400V176.40zM151.833 176.40V174.01h0.400V176.40zM152.033 176.40V172.56h0.400V176.40zM152.233 176.40V173.62h0.400V176.40zM152.433 176.40V174.16h0.400V176.40zM152.633 176.40V170.36h0.400V176.40zM152.833 176.40V172.64h0.400V176.40zM153.032 176.40V170.38h0.400V176.40zM153.232 176.40V169.98h0.400V176.40zM153.432 176.40V171.64h0.400V176.40zM153.632 176.40V173.54h0.400V176.40zM153.832 176.40V173.94h0.400V176.40zM154.032 176.40V173.48h0.400V176.40zM154.232 176.40V174.66h0.400V176.40zM154.432 176.40V173.30h0.400V176.40zM154.631 176.40V172.90h0.400V176.40zM154.831 176.40V173.47h0.400V176.40zM155.031 176.40V171.66h0.400V176.40zM155.231 176.40V173.09h0.400V176.40zM155.431 176.40V173.71h0.400V176.40zM155.631 176.40V171.66h0.400V176.40zM155.831 176.40V170.47h0.400V176.40zM156.031 176.40V173.57h0.400V176.40zM156.231 176.40V173.58h0.400V176.40zM156.430 176.40V174.20h0.400V176.40zM156.630 176.40V174.56h0.400V176.40zM156.830 176.40V172.88h0.400V176.40zM157.030 176.40V173.69h0.400V176.40zM157.230 176.40V172.63h0.400V176.40zM157.430 176.40V172.79h0.400V176.40zM157.630 176.40V173.80h0.400V176.40zM157.830 176.40V174.73h0.400V176.40zM158.029 176.40V174.24h0.400V176.40zM158.229 176.40V173.57h0.400V176.40zM158.429 176.40V173.72h0.400V176.40zM158.629 176.40V172.61h0.400V176.40zM158.829 176.40V173.33h0.400V176.40zM159.029 176.40V171.63h0.400V176.40zM159.229 176.40V172.46h0.400V176.40zM159.429 176.40V173.90h0.400V176.40zM159.628 176.40V175.11h0.400V176.40zM159.828 176.40V171.85h0.400V176.40zM160.028 176.40V174.46h0.400V176.40zM160.228 176.40V174.47h0.400V176.40zM160.428 176.40V173.39h0.400V176.40zM160.628 176.40V172.44h0.400V176.40zM160.828 176.40V173.16h0.400V176.40zM161.028 176.40V172.60h0.400V176.40zM161.228 176.40V173.90h0.400V176.40zM161.427 176.40V171.45h0.400V176.40zM161.627 176.40V173.16h0.400V176.40zM161.827 176.40V174.15h0.400V176.40zM162.027 176.40V173.15h0.400V176.40zM162.227 176.40V172.04h0.400V176.40zM162.427 176.40V173.94h0.400V176.40zM162.627 176.40V168.93h0.400V176.40zM162.827 176.40V173.04h0.400V176.40zM163.026 176.40V172.05h0.400V176.40zM163.226 176.40V174.52h0.400V176.40zM163.426 176.40V173.58h0.400V176.40zM163.626 176.40V174.78h0.400V176.40zM163.826 176.40V172.47h0.400V176.40zM164.026 176.40V174.52h0.400V176.40zM164.226 176.40V171.95h0.400V176.40zM164.426 176.40V174.44h0.400V176.40zM164.625 176.40V171.81h0.400V176.40zM164.825 176.40V172.87h0.400V176.40zM165.025 176.40V171.96h0.400V176.40zM165.225 176.40V172.60h0.400V176.40zM165.425 176.40V172.91h0.400V176.40zM165.625 176.40V171.87h0.400V176.40zM165.825 176.40V173.52h0.400V176.40zM166.025 176.40V174.37h0.400V176.40zM166.225 176.40V169.82h0.400V176.40zM166.424 176.40V173.47h0.400V176.40zM166.624 176.40V171.75h0.400V176.40zM166.824 176.40V172.53h0.400V176.40zM167.024 176.40V173.30h0.400V176.40zM167.224 176.40V172.93h0.400V176.40zM167.424 176.40V173.09h0.400V176.40zM167.624 176.40V172.87h0.400V176.40zM167.824 176.40V173.96h0.400V176.40zM168.023 176.40V173.96h0.400V176.40zM168.223 176.40V174.61h0.400V176.40zM168.423 176.40V172.44h0.400V176.40zM168.623 176.40V168.23h0.400V176.40zM168.823 176.40V174.58h0.400V176.40zM169.023 176.40V175.02h0.400V176.40zM169.223 176.40V174.87h0.400V176.40zM169.423 176.40V174.09h0.400V176.40zM169.622 176.40V174.33h0.400V176.40zM169.822 176.40V173.62h0.400V176.40zM170.022 176.40V174.71h0.400V176.40zM170.222 176.40V172.71h0.400V176.40zM170.422 176.40V173.87h0.400V176.40zM170.622 176.40V171.85h0.400V176.40zM170.822 176.40V172.58h0.400V176.40zM171.022 176.40V168.45h0.400V176.40zM171.222 176.40V171.42h0.400V176.40zM171.421 176.40V173.51h0.400V176.40zM171.621 176.40V171.97h0.400V176.40zM171.821 176.40V173.08h0.400V176.40zM172.021 176.40V174.33h0.400V176.40zM172.221 176.40V173.07h0.400V176.40zM172.421 176.40V174.02h0.400V176.40zM172.621 176.40V172.60h0.400V176.40zM172.821 176.40V172.76h0.400V176.40zM173.020 176.40V173.21h0.400V176.40zM173.220 176.40V174.32h0.400V176.40zM173.420 176.40V172.20h0.400V176.40zM173.620 176.40V172.91h0.400V176.40zM173.820 176.40V174.03h0.400V176.40zM174.020 176.40V171.37h0.400V176.40zM174.220 176.40V173.16h0.400V176.40zM174.420 176.40V173.59h0.400V176.40zM174.619 176.40V172.03h0.400V176.40zM174.819 176.40V172.72h0.400V176.40zM175.019 176.40V175.23h0.400V176.40zM175.219 176.40V174.16h0.400V176.40zM175.419 176.40V174.60h0.400V176.40zM175.619 176.40V174.42h0.400V176.40zM175.819 176.40V171.89h0.400V176.40zM176.019 176.40V173.44h0.400V176.40zM176.219 176.40V173.77h0.400V176.40zM176.418 176.40V174.04h0.400V176.40zM176.618 176.40V174.12h0.400V176.40zM176.818 176.40V173.71h0.400V176.40zM177.018 176.40V172.95h0.400V176.40zM177.218 176.40V172.06h0.400V176.40zM177.418 176.40V174.35h0.400V176.40zM177.618 176.40V174.02h0.400V176.40zM177.818 176.40V170.55h0.400V176.40zM178.017 176.40V172.25h0.400V176.40zM178.217 176.40V174.88h0.400V176.40zM178.417 176.40V172.47h0.400V176.40zM178.617 176.40V174.08h0.400V176.40zM178.817 176.40V173.73h0.400V176.40zM179.017 176.40V172.76h0.400V176.40zM179.217 176.40V173.97h0.400V176.40zM179.417 176.40V174.40h0.400V176.40zM179.616 176.40V171.73h0.400V176.40zM179.816 176.40V173.07h0.400V176.40zM180.016 176.40V172.24h0.400V176.40zM180.216 176.40V173.31h0.400V176.40zM180.416 176.40V173.15h0.400V176.40zM180.616 176.40V172.98h0.400V176.40zM180.816 176.40V173.06h0.400V176.40zM181.016 176.40V172.89h0.400V176.40zM181.216 176.40V173.38h0.400V176.40zM181.415 176.40V172.20h0.400V176.40zM181.615 176.40V174.31h0.400V176.40zM181.815 176.40V173.34h0.400V176.40zM182.015 176.40V171.61h0.400V176.40zM182.215 176.40V174.36h0.400V176.40zM182.415 176.40V173.55h0.400V176.40zM182.615 176.40V173.44h0.400V176.40zM182.815 176.40V173.66h0.400V176.40zM183.014 176.40V174.05h0.400V176.40zM183.214 176.40V173.14h0.400V176.40zM183.414 176.40V172.43h0.400V176.40zM183.614 176.40V172.61h0.400V176.40zM183.814 176.40V173.21h0.400V176.40zM184.014 176.40V171.82h0.400V176.40zM184.214 176.40V171.88h0.400V176.40zM184.414 176.40V174.03h0.400V176.40zM184.613 176.40V173.02h0.400V176.40zM184.813 176.40V174.14h0.400V176.40zM185.013 176.40V173.62h0.400V176.40zM185.213 176.40V173.51h0.400V176.40zM185.413 176.40V173.98h0.400V176.40zM185.613 176.40V173.83h0.400V176.40zM185.813 176.40V173.43h0.400V176.40zM186.013 176.40V173.16h0.400V176.40zM186.213 176.40V174.25h0.400V176.40zM186.412 176.40V173.56h0.400V176.40zM186.612 176.40V172.50h0.400V176.40zM186.812 176.40V173.17h0.400V176.40zM187.012 176.40V173.47h0.400V176.40zM187.212 176.40V174.01h0.400V176.40zM187.412 176.40V174.00h0.400V176.40zM187.612 176.40V171.26h0.400V176.40zM187.812 176.40V174.90h0.400V176.40zM188.011 176.40V174.27h0.400V176.40zM188.211 176.40V173.76h0.400V176.40zM188.411 176.40V171.98h0.400V176.40zM188.611 176.40V174.46h0.400V176.40zM188.811 176.40V174.21h0.400V176.40zM189.011 176.40V171.73h0.400V176.40zM189.211 176.40V173.59h0.400V176.40zM189.411 176.40V174.77h0.400V176.40zM189.610 176.40V172.59h0.400V176.40zM189.810 176.40V173.52h0.400V176.40zM190.010 176.40V172.09h0.400V176.40zM190.210 176.40V173.53h0.400V176.40zM190.410 176.40V173.89h0.400V176.40zM190.610 176.40V174.05h0.400V176.40zM190.810 176.40V173.88h0.400V176.40zM191.010 176.40V173.52h0.400V176.40zM191.210 176.40V171.38h0.400V176.40zM191.409 176.40V171.46h0.400V176.40zM191.609 176.40V173.84h0.400V176.40zM191.809 176.40V174.62h0.400V176.40zM192.009 176.40V174.01h0.400V176.40zM192.209 176.40V173.32h0.400V176.40zM192.409 176.40V172.89h0.400V176.40zM192.609 176.40V173.46h0.400V176.40zM192.809 176.40V173.14h0.400V176.40zM193.008 176.40V168.74h0.400V176.40zM193.208 176.40V173.62h0.400V176.40zM193.408 176.40V173.60h0.400V176.40zM193.608 176.40V173.23h0.400V176.40zM193.808 176.40V172.60h0.400V176.40zM194.008 176.40V172.64h0.400V176.40zM194.208 176.40V170.36h0.400V176.40zM194.408 176.40V174.21h0.400V176.40zM194.607 176.40V172.33h0.400V176.40zM194.807 176.40V172.99h0.400V176.40zM195.007 176.40V172.21h0.400V176.40zM195.207 176.40V174.32h0.400V176.40zM195.407 176.40V173.75h0.400V176.40zM195.607 176.40V175.18h0.400V176.40zM195.807 176.40V170.77h0.400V176.40zM196.007 176.40V171.83h0.400V176.40zM196.207 176.40V174.58h0.400V176.40zM196.406 176.40V174.11h0.400V176.40zM196.606 176.40V172.91h0.400V176.40zM196.806 176.40V172.51h0.400V176.40zM197.006 176.40V172.59h0.400V176.40zM197.206 176.40V173.65h0.400V176.40zM197.406 176.40V171.43h0.400V176.40zM197.606 176.40V173.34h0.400V176.40zM197.806 176.40V172.82h0.400V176.40zM198.005 176.40V173.18h0.400V176.40zM198.205 176.40V172.50h0.400V176.40zM198.405 176.40V173.25h0.400V176.40zM198.605 176.40V170.60h0.400V176.40zM198.805 176.40V174.33h0.400V176.40zM199.005 176.40V173.94h0.400V176.40zM199.205 176.40V171.82h0.400V176.40zM199.405 176.40V174.51h0.400V176.40zM199.604 176.40V174.21h0.400V176.40zM199.804 176.40V174.57h0.400V176.40zM200.004 176.40V173.29h0.400V176.40zM200.204 176.40V173.21h0.400V176.40zM200.404 176.40V174.39h0.400V176.40zM200.604 176.40V174.17h0.400V176.40zM200.804 176.40V172.66h0.400V176.40zM201.004 176.40V170.11h0.400V176.40zM201.204 176.40V172.29h0.400V176.40zM201.403 176.40V174.16h0.400V176.40zM201.603 176.40V174.29h0.400V176.40zM201.803 176.40V173.69h0.400V176.40zM202.003 176.40V173.52h0.400V176.40zM202.203 176.40V172.99h0.400V176.40zM202.403 176.40V173.56h0.400V176.40zM202.603 176.40V174.41h0.400V176.40zM202.803 176.40V171.36h0.400V176.40zM203.002 176.40V170.31h0.400V176.40zM203.202 176.40V173.61h0.400V176.40zM203.402 176.40V174.04h0.400V176.40zM203.602 176.40V172.35h0.400V176.40zM203.802 176.40V174.36h0.400V176.40zM204.002 176.40V174.30h0.400V176.40zM204.202 176.40V173.44h0.400V176.40zM204.402 176.40V172.02h0.400V176.40zM204.601 176.40V173.27h0.400V176.40zM204.801 176.40V170.11h0.400V176.40zM205.001 176.40V173.55h0.400V176.40zM205.201 176.40V174.29h0.400V176.40zM205.401 176.40V174.11h0.400V176.40zM205.601 176.40V173.82h0.400V176.40zM205.801 176.40V173.47h0.400V176.40zM206.001 176.40V173.43h0.400V176.40zM206.201 176.40V172.47h0.400V176.40zM206.400 176.40V173.61h0.400V176.40zM206.600 176.40V174.84h0.400V176.40zM206.800 176.40V172.37h0.400V176.40zM207.000 176.40V174.19h0.400V176.40zM207.200 176.40V174.19h0.400V176.40zM207.400 176.40V172.06h0.400V176.40zM207.600 176.40V174.11h0.400V176.40zM207.800 176.40V172.50h0.400V176.40zM207.999 176.40V172.80h0.400V176.40zM208.199 176.40V173.67h0.400V176.40zM208.399 176.40V172.82h0.400V176.40zM208.599 176.40V171.36h0.400V176.40zM208.799 176.40V173.83h0.400V176.40zM208.999 176.40V172.20h0.400V176.40zM209.199 176.40V173.69h0.400V176.40zM209.399 176.40V173.67h0.400V176.40zM209.598 176.40V172.51h0.400V176.40zM209.798 176.40V173.26h0.400V176.40zM209.998 176.40V173.26h0.400V176.40zM210.198 176.40V174.38h0.400V176.40zM210.398 176.40V171.48h0.400V176.40zM210.598 176.40V172.69h0.400V176.40zM210.798 176.40V171.18h0.400V176.40zM210.998 176.40V172.51h0.400V176.40zM211.198 176.40V172.21h0.400V176.40zM211.397 176.40V173.33h0.400V176.40zM211.597 176.40V171.28h0.400V176.40zM211.797 176.40V174.56h0.400V176.40zM211.997 176.40V172.72h0.400V176.40zM212.197 176.40V173.93h0.400V176.40zM212.397 176.40V173.93h0.400V176.40zM212.597 176.40V171.56h0.400V176.40zM212.797 176.40V174.01h0.400V176.40zM212.996 176.40V173.92h0.400V176.40zM213.196 176.40V173.59h0.400V176.40zM213.396 176.40V173.84h0.400V176.40zM213.596 176.40V174.43h0.400V176.40zM213.796 176.40V173.88h0.400V176.40zM213.996 176.40V174.50h0.400V176.40zM214.196 176.40V174.02h0.400V176.40zM214.396 176.40V173.26h0.400V176.40zM214.595 176.40V174.08h0.400V176.40zM214.795 176.40V173.50h0.400V176.40zM214.995 176.40V172.32h0.400V176.40zM215.195 176.40V173.25h0.400V176.40zM215.395 176.40V174.48h0.400V176.40zM215.595 176.40V172.51h0.400V176.40zM215.795 176.40V172.10h0.400V176.40zM215.995 176.40V172.73h0.400V176.40zM216.195 176.40V174.40h0.400V176.40zM216.394 176.40V171.49h0.400V176.40zM216.594 176.40V174.32h0.400V176.40zM216.794 176.40V172.85h0.400V176.40zM216.994 176.40V174.48h0.400V176.40zM217.194 176.40V172.57h0.400V176.40zM217.394 176.40V172.29h0.400V176.40zM217.594 176.40V171.59h0.400V176.40z" fill="#1f77b4"/>
<rect x="31.3" y="18.0" width="195.79999999999998" height="158.4" fill="none" stroke="#8c8c8c" stroke-width="0.6"/>
<path d="M40.50 176.4v1.8" stroke="#777" stroke-width="0.5"/>
<text x="40.50" y="184.40" font-size="6.9" text-anchor="middle" font-family="DejaVu Sans, Liberation Sans, sans-serif" stroke="#111" stroke-width="0.22" fill="#111">0</text>
<path d="M80.48 176.4v1.8" stroke="#777" stroke-width="0.5"/>
<text x="80.48" y="184.40" font-size="6.9" text-anchor="middle" font-family="DejaVu Sans, Liberation Sans, sans-serif" stroke="#111" stroke-width="0.22" fill="#111">200</text>
<path d="M120.45 176.4v1.8" stroke="#777" stroke-width="0.5"/>
<text x="120.45" y="184.40" font-size="6.9" text-anchor="middle" font-family="DejaVu Sans, Liberation Sans, sans-serif" stroke="#111" stroke-width="0.22" fill="#111">400</text>
<path d="M160.43 176.4v1.8" stroke="#777" stroke-width="0.5"/>
<text x="160.43" y="184.40" font-size="6.9" text-anchor="middle" font-family="DejaVu Sans, Liberation Sans, sans-serif" stroke="#111" stroke-width="0.22" fill="#111">600</text>
<path d="M200.40 176.4v1.8" stroke="#777" stroke-width="0.5"/>
<text x="200.40" y="184.40" font-size="6.9" text-anchor="middle" font-family="DejaVu Sans, Liberation Sans, sans-serif" stroke="#111" stroke-width="0.22" fill="#111">800</text>
<path d="M31.3 176.40h-1.8" stroke="#777" stroke-width="0.5"/>
<text x="29.60" y="179.00" font-size="6.9" text-anchor="end" font-family="DejaVu Sans, Liberation Sans, sans-serif" stroke="#111" stroke-width="0.22" fill="#111">0</text>
<path d="M31.3 155.85h-1.8" stroke="#777" stroke-width="0.5"/>
<text x="29.60" y="158.45" font-size="6.9" text-anchor="end" font-family="DejaVu Sans, Liberation Sans, sans-serif" stroke="#111" stroke-width="0.22" fill="#111">50</text>
<path d="M31.3 135.30h-1.8" stroke="#777" stroke-width="0.5"/>
<text x="29.60" y="137.90" font-size="6.9" text-anchor="end" font-family="DejaVu Sans, Liberation Sans, sans-serif" stroke="#111" stroke-width="0.22" fill="#111">100</text>
<path d="M31.3 114.75h-1.8" stroke="#777" stroke-width="0.5"/>
<text x="29.60" y="117.35" font-size="6.9" text-anchor="end" font-family="DejaVu Sans, Liberation Sans, sans-serif" stroke="#111" stroke-width="0.22" fill="#111">150</text>
<path d="M31.3 94.20h-1.8" stroke="#777" stroke-width="0.5"/>
<text x="29.60" y="96.80" font-size="6.9" text-anchor="end" font-family="DejaVu Sans, Liberation Sans, sans-serif" stroke="#111" stroke-width="0.22" fill="#111">200</text>
<path d="M31.3 73.65h-1.8" stroke="#777" stroke-width="0.5"/>
<text x="29.60" y="76.25" font-size="6.9" text-anchor="end" font-family="DejaVu Sans, Liberation Sans, sans-serif" stroke="#111" stroke-width="0.22" fill="#111">250</text>
<path d="M31.3 53.10h-1.8" stroke="#777" stroke-width="0.5"/>
<text x="29.60" y="55.70" font-size="6.9" text-anchor="end" font-family="DejaVu Sans, Liberation Sans, sans-serif" stroke="#111" stroke-width="0.22" fill="#111">300</text>
<path d="M31.3 32.55h-1.8" stroke="#777" stroke-width="0.5"/>
<text x="29.60" y="35.15" font-size="6.9" text-anchor="end" font-family="DejaVu Sans, Liberation Sans, sans-serif" stroke="#111" stroke-width="0.22" fill="#111">350</text>
<text x="129.20" y="194.6" font-size="10.45" text-anchor="middle" font-family="DejaVu Sans, Liberation Sans, sans-serif" stroke="#111" stroke-width="0.22" fill="#111">Number of papers</text>
<text transform="translate(13.3 97.20) rotate(-90)" font-size="10.45" text-anchor="middle" font-family="DejaVu Sans, Liberation Sans, sans-serif" stroke="#111" stroke-width="0.22" fill="#111">Unique HPO terms per paper</text>
<rect x="36.9" y="23.5" width="79.8" height="33.7" rx="2" fill="#fff" fill-opacity="0.8" stroke="#ccc" stroke-width="0.6"/>
<rect x="41.3" y="28.50" width="21" height="7.2" fill="#1f77b4"/>
<text x="70.69999999999999" y="35.90" font-size="10.45" font-family="DejaVu Sans, Liberation Sans, sans-serif" stroke="#111" stroke-width="0.22" fill="#111">TIAB</text>
<rect x="41.3" y="43.90" width="21" height="7.2" fill="#ff7f0e"/>
<text x="70.69999999999999" y="51.30" font-size="10.45" font-family="DejaVu Sans, Liberation Sans, sans-serif" stroke="#111" stroke-width="0.22" fill="#111">Full text</text>
<text x="1" y="10.4" font-size="12.6" font-weight="bold" font-family="Liberation Serif, serif" fill="#000">A</text>
<path d="M286.600 176.40V172.77h1.800V176.40zM288.850 176.40V171.66h1.800V176.40zM291.100 176.40V170.26h1.800V176.40zM293.350 176.40V168.59h1.800V176.40zM295.600 176.40V164.40h1.800V176.40zM297.850 176.40V160.22h1.800V176.40zM300.100 176.40V158.54h1.800V176.40zM302.350 176.40V156.31h1.800V176.40zM304.600 176.40V155.47h1.800V176.40zM306.850 176.40V154.92h1.800V176.40zM309.100 176.40V154.36h1.800V176.40zM311.350 176.40V152.69h1.800V176.40zM313.600 176.40V152.13h1.800V176.40zM315.850 176.40V151.57h1.800V176.40zM318.100 176.40V151.01h1.800V176.40zM320.350 176.40V150.73h1.800V176.40zM322.600 176.40V149.90h1.800V176.40zM324.850 176.40V149.06h1.800V176.40zM327.100 176.40V148.05h1.800V176.40zM329.350 176.40V147.11h1.800V176.40zM331.600 176.40V145.71h1.800V176.40zM333.850 176.40V144.87h1.800V176.40zM336.100 176.40V144.45h1.800V176.40zM338.350 176.40V144.45h1.800V176.40zM340.600 176.40V144.31h1.800V176.40zM342.850 176.40V144.31h1.800V176.40zM345.100 176.40V141.25h1.800V176.40zM347.350 176.40V140.41h1.800V176.40zM349.600 176.40V139.29h1.800V176.40zM351.850 176.40V138.46h1.800V176.40zM354.100 176.40V138.18h1.800V176.40zM356.350 176.40V137.34h1.800V176.40zM358.600 176.40V135.94h1.800V176.40zM360.850 176.40V135.39h1.800V176.40zM363.100 176.40V134.27h1.800V176.40zM365.350 176.40V133.16h1.800V176.40zM367.600 176.40V132.32h1.800V176.40zM369.850 176.40V131.76h1.800V176.40zM372.100 176.40V131.29h1.800V176.40zM374.350 176.40V130.64h1.800V176.40zM376.600 176.40V129.53h1.800V176.40zM378.850 176.40V128.13h1.800V176.40zM381.100 176.40V126.46h1.800V176.40zM383.350 176.40V125.90h1.800V176.40zM385.600 176.40V125.34h1.800V176.40zM387.850 176.40V125.34h1.800V176.40zM390.100 176.40V125.34h1.800V176.40zM392.350 176.40V125.06h1.800V176.40zM394.600 176.40V124.23h1.800V176.40zM396.850 176.40V123.39h1.800V176.40zM399.100 176.40V123.39h1.800V176.40zM401.350 176.40V123.39h1.800V176.40zM403.600 176.40V123.39h1.800V176.40zM405.850 176.40V122.27h1.800V176.40zM408.100 176.40V120.60h1.800V176.40zM410.350 176.40V120.60h1.800V176.40zM412.600 176.40V120.04h1.800V176.40zM414.850 176.40V118.93h1.800V176.40zM417.100 176.40V118.65h1.800V176.40zM419.350 176.40V117.53h1.800V176.40zM421.600 176.40V116.41h1.800V176.40zM423.850 176.40V116.41h1.800V176.40zM426.100 176.40V116.41h1.800V176.40zM428.350 176.40V115.58h1.800V176.40zM430.600 176.40V114.74h1.800V176.40zM432.850 176.40V112.79h1.800V176.40zM435.100 176.40V107.49h1.800V176.40zM437.350 176.40V106.37h1.800V176.40zM439.600 176.40V105.25h1.800V176.40zM441.850 176.40V104.98h1.800V176.40zM444.100 176.40V103.86h1.800V176.40zM446.350 176.40V103.30h1.800V176.40zM448.600 176.40V102.74h1.800V176.40zM450.850 176.40V101.63h1.800V176.40zM453.100 176.40V101.07h1.800V176.40zM455.350 176.40V99.95h1.800V176.40zM457.600 176.40V98.84h1.800V176.40zM459.850 176.40V98.00h1.800V176.40zM462.100 176.40V97.44h1.800V176.40zM464.350 176.40V96.33h1.800V176.40zM466.600 176.40V94.65h1.800V176.40zM468.850 176.40V93.26h1.800V176.40zM471.100 176.40V92.98h1.800V176.40zM473.350 176.40V92.98h1.800V176.40zM475.600 176.40V92.98h1.800V176.40zM477.850 176.40V92.98h1.800V176.40zM480.100 176.40V92.70h1.800V176.40zM482.350 176.40V92.70h1.800V176.40zM484.600 176.40V92.70h1.800V176.40zM486.850 176.40V92.70h1.800V176.40zM489.100 176.40V89.63h1.800V176.40zM491.350 176.40V84.05h1.800V176.40zM493.600 176.40V79.87h1.800V176.40zM495.850 176.40V75.12h1.800V176.40zM498.100 176.40V70.10h1.800V176.40zM500.350 176.40V67.59h1.800V176.40zM502.600 176.40V60.61h1.800V176.40zM504.850 176.40V54.76h1.800V176.40zM507.100 176.40V25.74h1.800V176.40z" fill="#ff7f0e"/>
<path d="M286.600 176.40V173.05h1.800V176.40zM288.850 176.40V172.22h1.800V176.40zM291.100 176.40V171.38h1.800V176.40zM293.350 176.40V169.98h1.800V176.40zM295.600 176.40V165.24h1.800V176.40zM297.850 176.40V169.98h1.800V176.40zM300.100 176.40V173.61h1.800V176.40zM302.350 176.40V167.47h1.800V176.40zM304.600 176.40V173.05h1.800V176.40zM306.850 176.40V172.22h1.800V176.40zM309.100 176.40V173.05h1.800V176.40zM311.350 176.40V168.31h1.800V176.40zM313.600 176.40V172.22h1.800V176.40zM315.850 176.40V166.08h1.800V176.40zM318.100 176.40V174.45h1.800V176.40zM320.350 176.40V175.28h1.800V176.40zM322.600 176.40V173.61h1.800V176.40zM324.850 176.40V175.28h1.800V176.40zM327.100 176.40V172.22h1.800V176.40zM329.350 176.40V171.94h1.800V176.40zM331.600 176.40V170.82h1.800V176.40zM333.850 176.40V160.22h1.800V176.40zM336.100 176.40V164.12h1.800V176.40zM338.350 176.40V169.15h1.800V176.40zM340.600 176.40V168.03h1.800V176.40zM342.850 176.40V173.89h1.800V176.40zM345.100 176.40V150.73h1.800V176.40zM347.350 176.40V159.94h1.800V176.40zM349.600 176.40V171.38h1.800V176.40zM351.850 176.40V169.15h1.800V176.40zM354.100 176.40V168.31h1.800V176.40zM356.350 176.40V159.66h1.800V176.40zM358.600 176.40V158.27h1.800V176.40zM360.850 176.40V167.47h1.800V176.40zM363.100 176.40V168.31h1.800V176.40zM365.350 176.40V154.36h1.800V176.40zM367.600 176.40V163.84h1.800V176.40zM369.850 176.40V134.83h1.800V176.40zM372.100 176.40V172.22h1.800V176.40zM374.350 176.40V168.31h1.800V176.40zM376.600 176.40V168.31h1.800V176.40zM378.850 176.40V170.82h1.800V176.40zM381.100 176.40V165.24h1.800V176.40zM383.350 176.40V163.84h1.800V176.40zM385.600 176.40V159.10h1.800V176.40zM387.850 176.40V169.15h1.800V176.40zM390.100 176.40V165.24h1.800V176.40zM392.350 176.40V162.17h1.800V176.40zM394.600 176.40V173.05h1.800V176.40zM396.850 176.40V169.98h1.800V176.40zM399.100 176.40V165.24h1.800V176.40zM401.350 176.40V154.92h1.800V176.40zM403.600 176.40V173.89h1.800V176.40zM405.850 176.40V172.22h1.800V176.40zM408.100 176.40V173.05h1.800V176.40zM410.350 176.40V166.91h1.800V176.40zM412.600 176.40V164.40h1.800V176.40zM414.850 176.40V166.08h1.800V176.40zM417.100 176.40V169.98h1.800V176.40zM419.350 176.40V164.40h1.800V176.40zM421.600 176.40V166.08h1.800V176.40zM423.850 176.40V173.89h1.800V176.40zM426.100 176.40V171.38h1.800V176.40zM428.350 176.40V157.99h1.800V176.40zM430.600 176.40V169.15h1.800V176.40zM432.850 176.40V165.24h1.800V176.40zM435.100 176.40V172.22h1.800V176.40zM437.350 176.40V169.98h1.800V176.40zM439.600 176.40V165.24h1.800V176.40zM441.850 176.40V172.22h1.800V176.40zM444.100 176.40V168.31h1.800V176.40zM446.350 176.40V155.20h1.800V176.40zM448.600 176.40V172.49h1.800V176.40zM450.850 176.40V172.22h1.800V176.40zM453.100 176.40V171.38h1.800V176.40zM455.350 176.40V170.26h1.800V176.40zM457.600 176.40V169.15h1.800V176.40zM459.850 176.40V168.31h1.800V176.40zM462.100 176.40V164.40h1.800V176.40zM464.350 176.40V166.91h1.800V176.40zM466.600 176.40V146.55h1.800V176.40zM468.850 176.40V173.61h1.800V176.40zM471.100 176.40V171.94h1.800V176.40zM473.350 176.40V169.98h1.800V176.40zM475.600 176.40V153.24h1.800V176.40zM477.850 176.40V166.91h1.800V176.40zM480.100 176.40V165.24h1.800V176.40zM482.350 176.40V156.31h1.800V176.40zM484.600 176.40V167.19h1.800V176.40zM486.850 176.40V164.40h1.800V176.40zM489.100 176.40V152.13h1.800V176.40zM491.350 176.40V162.45h1.800V176.40zM493.600 176.40V156.31h1.800V176.40zM495.850 176.40V173.89h1.800V176.40zM498.100 176.40V164.40h1.800V176.40zM500.350 176.40V166.91h1.800V176.40zM502.600 176.40V168.03h1.800V176.40zM504.850 176.40V108.05h1.800V176.40zM507.100 176.40V137.34h1.800V176.40z" fill="#1f77b4"/>
<rect x="275.4" y="18.0" width="243.20000000000005" height="158.4" fill="none" stroke="#8c8c8c" stroke-width="0.6"/>
<path d="M287.50 176.4v1.8" stroke="#777" stroke-width="0.5"/>
<text x="287.50" y="184.40" font-size="6.9" text-anchor="middle" font-family="DejaVu Sans, Liberation Sans, sans-serif" stroke="#111" stroke-width="0.22" fill="#111">0</text>
<path d="M332.50 176.4v1.8" stroke="#777" stroke-width="0.5"/>
<text x="332.50" y="184.40" font-size="6.9" text-anchor="middle" font-family="DejaVu Sans, Liberation Sans, sans-serif" stroke="#111" stroke-width="0.22" fill="#111">20</text>
<path d="M377.50 176.4v1.8" stroke="#777" stroke-width="0.5"/>
<text x="377.50" y="184.40" font-size="6.9" text-anchor="middle" font-family="DejaVu Sans, Liberation Sans, sans-serif" stroke="#111" stroke-width="0.22" fill="#111">40</text>
<path d="M422.50 176.4v1.8" stroke="#777" stroke-width="0.5"/>
<text x="422.50" y="184.40" font-size="6.9" text-anchor="middle" font-family="DejaVu Sans, Liberation Sans, sans-serif" stroke="#111" stroke-width="0.22" fill="#111">60</text>
<path d="M467.50 176.4v1.8" stroke="#777" stroke-width="0.5"/>
<text x="467.50" y="184.40" font-size="6.9" text-anchor="middle" font-family="DejaVu Sans, Liberation Sans, sans-serif" stroke="#111" stroke-width="0.22" fill="#111">80</text>
<path d="M512.50 176.4v1.8" stroke="#777" stroke-width="0.5"/>
<text x="512.50" y="184.40" font-size="6.9" text-anchor="middle" font-family="DejaVu Sans, Liberation Sans, sans-serif" stroke="#111" stroke-width="0.22" fill="#111">100</text>
<path d="M275.4 176.40h-1.8" stroke="#777" stroke-width="0.5"/>
<text x="273.50" y="179.00" font-size="6.9" text-anchor="end" font-family="DejaVu Sans, Liberation Sans, sans-serif" stroke="#111" stroke-width="0.22" fill="#111">0</text>
<path d="M275.4 148.50h-1.8" stroke="#777" stroke-width="0.5"/>
<text x="273.50" y="151.10" font-size="6.9" text-anchor="end" font-family="DejaVu Sans, Liberation Sans, sans-serif" stroke="#111" stroke-width="0.22" fill="#111">100</text>
<path d="M275.4 120.60h-1.8" stroke="#777" stroke-width="0.5"/>
<text x="273.50" y="123.20" font-size="6.9" text-anchor="end" font-family="DejaVu Sans, Liberation Sans, sans-serif" stroke="#111" stroke-width="0.22" fill="#111">200</text>
<path d="M275.4 92.70h-1.8" stroke="#777" stroke-width="0.5"/>
<text x="273.50" y="95.30" font-size="6.9" text-anchor="end" font-family="DejaVu Sans, Liberation Sans, sans-serif" stroke="#111" stroke-width="0.22" fill="#111">300</text>
<path d="M275.4 64.80h-1.8" stroke="#777" stroke-width="0.5"/>
<text x="273.50" y="67.40" font-size="6.9" text-anchor="end" font-family="DejaVu Sans, Liberation Sans, sans-serif" stroke="#111" stroke-width="0.22" fill="#111">400</text>
<path d="M275.4 36.90h-1.8" stroke="#777" stroke-width="0.5"/>
<text x="273.50" y="39.50" font-size="6.9" text-anchor="end" font-family="DejaVu Sans, Liberation Sans, sans-serif" stroke="#111" stroke-width="0.22" fill="#111">500</text>
<text x="397.00" y="194.6" font-size="10.45" text-anchor="middle" font-family="DejaVu Sans, Liberation Sans, sans-serif" stroke="#111" stroke-width="0.22" fill="#111">Disease model gene</text>
<text transform="translate(256.3 97.20) rotate(-90)" font-size="10.45" text-anchor="middle" font-family="DejaVu Sans, Liberation Sans, sans-serif" stroke="#111" stroke-width="0.22" fill="#111">Unique HPO terms per Disease Model</text>
<rect x="280.3" y="23.5" width="80.7" height="33.7" rx="2" fill="#fff" fill-opacity="0.8" stroke="#ccc" stroke-width="0.6"/>
<rect x="284.7" y="28.50" width="21" height="7.2" fill="#1f77b4"/>
<text x="314.1" y="35.90" font-size="10.45" font-family="DejaVu Sans, Liberation Sans, sans-serif" stroke="#111" stroke-width="0.22" fill="#111">OMIM</text>
<rect x="284.7" y="43.90" width="21" height="7.2" fill="#ff7f0e"/>
<text x="314.1" y="51.30" font-size="10.45" font-family="DejaVu Sans, Liberation Sans, sans-serif" stroke="#111" stroke-width="0.22" fill="#111">Full text</text>
<text x="232" y="10.4" font-size="12.6" font-weight="bold" font-family="Liberation Serif, serif" fill="#000">B</text>
<rect x="23" y="203.4" width="203.4" height="39.099999999999994" fill="#e7e6e6"/>
<path d="M23 202.9V283.3" stroke="#222" stroke-width="1"/>
<path d="M97.3 202.9V283.3" stroke="#222" stroke-width="1"/>
<path d="M159 202.9V283.3" stroke="#222" stroke-width="1"/>
<path d="M226.4 202.9V283.3" stroke="#222" stroke-width="1"/>
<path d="M22.5 203.4H226.9" stroke="#222" stroke-width="1"/>
<path d="M22.5 242.5H226.9" stroke="#222" stroke-width="1"/>
<path d="M22.5 256.0H226.9" stroke="#222" stroke-width="1"/>
<path d="M22.5 282.8H226.9" stroke="#222" stroke-width="1"/>
<text x="26.2" y="213.8" font-size="10.5" font-weight="bold" font-family="Liberation Sans, sans-serif" fill="#000" stroke="#000" stroke-width="0.12" textLength="46" lengthAdjust="spacingAndGlyphs">Source for</text>
<text x="26.2" y="226.5" font-size="10.5" font-weight="bold" font-family="Liberation Sans, sans-serif" fill="#000" stroke="#000" stroke-width="0.12" textLength="22.6" lengthAdjust="spacingAndGlyphs">term</text>
<text x="26.2" y="239.3" font-size="10.5" font-weight="bold" font-family="Liberation Sans, sans-serif" fill="#000" stroke="#000" stroke-width="0.12" textLength="45.5" lengthAdjust="spacingAndGlyphs">extraction</text>
<text x="100.8" y="213.8" font-size="10.5" font-weight="bold" font-family="Liberation Sans, sans-serif" fill="#000" stroke="#000" stroke-width="0.12" textLength="48.6" lengthAdjust="spacingAndGlyphs">Mean HPO</text>
<text x="100.8" y="226.5" font-size="10.5" font-weight="bold" font-family="Liberation Sans, sans-serif" fill="#000" stroke="#000" stroke-width="0.12" textLength="25.8" lengthAdjust="spacingAndGlyphs">terms</text>
<text x="162" y="213.8" font-size="10.5" font-weight="bold" font-family="Liberation Sans, sans-serif" fill="#000" stroke="#000" stroke-width="0.12" textLength="57" lengthAdjust="spacingAndGlyphs">Median HPO</text>
<text x="162" y="226.5" font-size="10.5" font-weight="bold" font-family="Liberation Sans, sans-serif" fill="#000" stroke="#000" stroke-width="0.12" textLength="25.8" lengthAdjust="spacingAndGlyphs">terms</text>
<text x="26.2" y="253.1" font-size="10.4" font-family="Liberation Sans, sans-serif" fill="#000" stroke="#000" stroke-width="0.2" textLength="34.9" lengthAdjust="spacingAndGlyphs">Full text</text>
<text x="100.8" y="253.1" font-size="10.4" font-family="Liberation Sans, sans-serif" fill="#000" stroke="#000" stroke-width="0.2" textLength="10.6" lengthAdjust="spacingAndGlyphs">68</text>
<text x="162" y="253.1" font-size="10.4" font-family="Liberation Sans, sans-serif" fill="#000" stroke="#000" stroke-width="0.2" textLength="10.6" lengthAdjust="spacingAndGlyphs">59</text>
<text x="26.2" y="267.1" font-size="10.4" font-family="Liberation Sans, sans-serif" fill="#000" stroke="#000" stroke-width="0.2" textLength="66.4" lengthAdjust="spacingAndGlyphs">Title + Abstract</text>
<text x="100.8" y="267.1" font-size="10.4" font-family="Liberation Sans, sans-serif" fill="#000" stroke="#000" stroke-width="0.2" textLength="5.3" lengthAdjust="spacingAndGlyphs">9</text>
<text x="162" y="267.1" font-size="10.4" font-family="Liberation Sans, sans-serif" fill="#000" stroke="#000" stroke-width="0.2" textLength="5.3" lengthAdjust="spacingAndGlyphs">9</text>
<rect x="272.9" y="202.8" width="233.8" height="32.69999999999999" fill="#e7e6e6"/>
<path d="M272.9 202.3V284.0" stroke="#222" stroke-width="1"/>
<path d="M347.7 202.3V284.0" stroke="#222" stroke-width="1"/>
<path d="M423.1 202.3V284.0" stroke="#222" stroke-width="1"/>
<path d="M506.7 202.3V284.0" stroke="#222" stroke-width="1"/>
<path d="M272.4 202.8H507.2" stroke="#222" stroke-width="1"/>
<path d="M272.4 235.5H507.2" stroke="#222" stroke-width="1"/>
<path d="M272.4 270.0H507.2" stroke="#222" stroke-width="1"/>
<path d="M272.4 283.5H507.2" stroke="#222" stroke-width="1"/>
<text x="275.3" y="213.0" font-size="10.5" font-weight="bold" font-family="Liberation Sans, sans-serif" fill="#000" stroke="#000" stroke-width="0.12" textLength="65.3" lengthAdjust="spacingAndGlyphs">Disease model</text>
<text x="275.3" y="225.8" font-size="10.5" font-weight="bold" font-family="Liberation Sans, sans-serif" fill="#000" stroke="#000" stroke-width="0.12" textLength="29.4" lengthAdjust="spacingAndGlyphs">source</text>
<text x="351.5" y="213.0" font-size="10.5" font-weight="bold" font-family="Liberation Sans, sans-serif" fill="#000" stroke="#000" stroke-width="0.12" textLength="48.6" lengthAdjust="spacingAndGlyphs">Mean HPO</text>
<text x="351.5" y="225.8" font-size="10.5" font-weight="bold" font-family="Liberation Sans, sans-serif" fill="#000" stroke="#000" stroke-width="0.12" textLength="25.8" lengthAdjust="spacingAndGlyphs">terms</text>
<text x="426.3" y="213.0" font-size="10.5" font-weight="bold" font-family="Liberation Sans, sans-serif" fill="#000" stroke="#000" stroke-width="0.12" textLength="57" lengthAdjust="spacingAndGlyphs">Median HPO</text>
<text x="426.3" y="225.8" font-size="10.5" font-weight="bold" font-family="Liberation Sans, sans-serif" fill="#000" stroke="#000" stroke-width="0.12" textLength="25.8" lengthAdjust="spacingAndGlyphs">terms</text>
<text x="275.3" y="246.9" font-size="10.4" font-family="Liberation Sans, sans-serif" fill="#000" stroke="#000" stroke-width="0.2" textLength="34.8" lengthAdjust="spacingAndGlyphs">Full text</text>
<text x="275.3" y="259.7" font-size="10.4" font-family="Liberation Sans, sans-serif" fill="#000" stroke="#000" stroke-width="0.2" textLength="43.2" lengthAdjust="spacingAndGlyphs">download</text>
<text x="351.5" y="246.9" font-size="10.4" font-family="Liberation Sans, sans-serif" fill="#000" stroke="#000" stroke-width="0.2" textLength="15.9" lengthAdjust="spacingAndGlyphs">198</text>
<text x="426.3" y="246.9" font-size="10.4" font-family="Liberation Sans, sans-serif" fill="#000" stroke="#000" stroke-width="0.2" textLength="15.9" lengthAdjust="spacingAndGlyphs">192</text>
<text x="275.3" y="280.8" font-size="10.4" font-family="Liberation Sans, sans-serif" fill="#000" stroke="#000" stroke-width="0.2" textLength="28.5" lengthAdjust="spacingAndGlyphs">OMIM</text>
<text x="351.5" y="280.8" font-size="10.4" font-family="Liberation Sans, sans-serif" fill="#000" stroke="#000" stroke-width="0.2" textLength="10.6" lengthAdjust="spacingAndGlyphs">38</text>
<text x="426.3" y="280.8" font-size="10.4" font-family="Liberation Sans, sans-serif" fill="#000" stroke="#000" stroke-width="0.2" textLength="10.6" lengthAdjust="spacingAndGlyphs">32</text>
</svg>
</body></html>
